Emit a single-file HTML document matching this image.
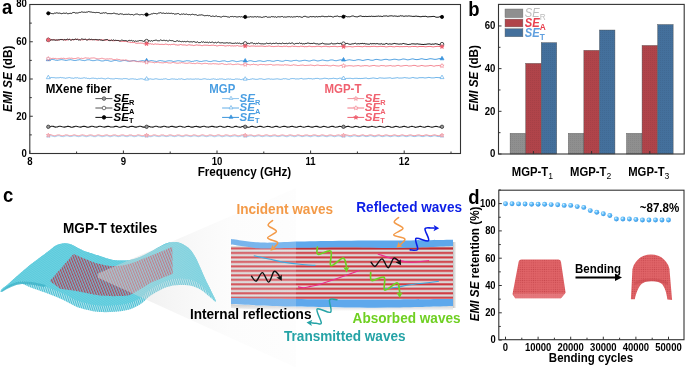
<!DOCTYPE html>
<html><head><meta charset="utf-8"><style>
html,body{margin:0;padding:0;background:#fff;}
svg{display:block;font-family:"Liberation Sans", sans-serif;will-change:transform;}
</style></head><body>
<svg width="685" height="367" viewBox="0 0 685 367">
<rect width="685" height="367" fill="#fff"/>
<rect x="29.8" y="4.5" width="430.7" height="149.0" fill="none" stroke="#333" stroke-width="1.1"/>
<text transform="translate(29.80,165.20) scale(1,1.08)" font-size="9.6" font-weight="bold" font-style="normal" fill="#000" text-anchor="middle" >8</text>
<text transform="translate(123.40,165.20) scale(1,1.08)" font-size="9.6" font-weight="bold" font-style="normal" fill="#000" text-anchor="middle" >9</text>
<text transform="translate(217.00,165.20) scale(1,1.08)" font-size="9.6" font-weight="bold" font-style="normal" fill="#000" text-anchor="middle" >10</text>
<text transform="translate(310.60,165.20) scale(1,1.08)" font-size="9.6" font-weight="bold" font-style="normal" fill="#000" text-anchor="middle" >11</text>
<text transform="translate(404.20,165.20) scale(1,1.08)" font-size="9.6" font-weight="bold" font-style="normal" fill="#000" text-anchor="middle" >12</text>
<text transform="translate(26.80,156.90) scale(1,1.08)" font-size="9.6" font-weight="bold" font-style="normal" fill="#000" text-anchor="end" >0</text>
<text transform="translate(26.80,119.65) scale(1,1.08)" font-size="9.6" font-weight="bold" font-style="normal" fill="#000" text-anchor="end" >20</text>
<text transform="translate(26.80,82.40) scale(1,1.08)" font-size="9.6" font-weight="bold" font-style="normal" fill="#000" text-anchor="end" >40</text>
<text transform="translate(26.80,45.15) scale(1,1.08)" font-size="9.6" font-weight="bold" font-style="normal" fill="#000" text-anchor="end" >60</text>
<text transform="translate(26.80,6.80) scale(1,1.08)" font-size="9.6" font-weight="bold" font-style="normal" fill="#000" text-anchor="end" >80</text>
<path d="M29.80,153.5v-3 M123.40,153.5v-3 M217.00,153.5v-3 M310.60,153.5v-3 M404.20,153.5v-3 M76.60,153.5v-2 M170.20,153.5v-2 M263.80,153.5v-2 M357.40,153.5v-2 M451.00,153.5v-2 M29.8,153.50h3 M29.8,116.25h3 M29.8,79.00h3 M29.8,41.75h3 M29.8,4.50h3 M29.8,134.88h2 M29.8,97.62h2 M29.8,60.38h2 M29.8,23.12h2" stroke="#333" stroke-width="1" fill="none"/>
<text transform="translate(244.40,175.90) scale(1,1.08)" font-size="11.7" font-weight="bold" font-style="normal" fill="#000" text-anchor="middle" >Frequency (GHz)</text>
<text transform="translate(11.8,78.8) rotate(-90) scale(1,1.08)" font-size="11.7" font-weight="bold" text-anchor="middle"><tspan font-style="italic">EMI SE</tspan> (dB)</text>
<text transform="translate(2.00,14.30) scale(1,1.08)" font-size="18.5" font-weight="bold" font-style="normal" fill="#000" text-anchor="start" >a</text>
<polyline points="48.3,136.30 49.3,136.03 50.3,135.75 51.3,135.83 52.3,136.13 53.3,136.39 54.3,136.64 55.3,136.60 56.3,136.34 57.3,135.86 58.3,135.72 59.3,135.75 60.3,136.18 61.3,136.50 62.3,136.55 63.3,136.66 64.3,136.37 65.3,135.97 66.3,135.78 67.3,135.77 68.3,136.03 69.3,136.47 70.3,136.56 71.3,136.50 72.3,136.22 73.3,135.84 74.3,135.75 75.3,135.82 76.3,136.20 77.4,136.47 78.4,136.67 79.4,136.56 80.4,136.30 81.4,135.92 82.4,135.71 83.4,135.94 84.4,136.24 85.4,136.54 86.4,136.69 87.4,136.52 88.4,136.21 89.4,135.89 90.4,135.67 91.4,135.90 92.4,136.12 93.4,136.54 94.4,136.62 95.4,136.65 96.4,136.33 97.4,135.82 98.4,135.70 99.4,135.93 100.4,136.14 101.4,136.57 102.4,136.63 103.4,136.47 104.4,136.28 105.4,135.98 106.4,135.71 107.4,135.77 108.4,136.12 109.4,136.58 110.4,136.70 111.4,136.47 112.4,136.20 113.4,135.84 114.4,135.66 115.4,135.91 116.4,136.09 117.4,136.50 118.4,136.64 119.4,136.48 120.4,136.29 121.4,135.84 122.4,135.78 123.4,135.78 124.4,136.15 125.4,136.43 126.4,136.60 127.4,136.64 128.4,136.30 129.4,135.87 130.4,135.83 131.4,135.80 132.4,136.15 133.5,136.57 134.5,136.68 135.5,136.46 136.5,136.33 137.5,135.85 138.5,135.70 139.5,135.92 140.5,136.14 141.5,136.46 142.5,136.56 143.5,136.45 144.5,136.24 145.5,135.85 146.5,135.77 147.5,135.84 148.5,136.17 149.5,136.59 150.5,136.65 151.5,136.55 152.5,136.29 153.5,135.83 154.5,135.68 155.5,135.95 156.5,136.25 157.5,136.46 158.5,136.59 159.5,136.58 160.5,136.30 161.5,135.83 162.5,135.84 163.5,135.95 164.5,136.21 165.5,136.49 166.5,136.57 167.5,136.43 168.5,136.30 169.5,135.84 170.5,135.79 171.5,135.83 172.5,136.26 173.5,136.53 174.5,136.61 175.5,136.46 176.5,136.25 177.5,135.80 178.5,135.70 179.5,135.89 180.5,136.27 181.5,136.54 182.5,136.61 183.5,136.60 184.5,136.14 185.5,135.79 186.5,135.70 187.5,135.87 188.5,136.11 189.6,136.46 190.6,136.62 191.6,136.53 192.6,136.12 193.6,135.85 194.6,135.83 195.6,135.98 196.6,136.24 197.6,136.56 198.6,136.67 199.6,136.44 200.6,136.10 201.6,135.78 202.6,135.83 203.6,135.93 204.6,136.30 205.6,136.43 206.6,136.68 207.6,136.50 208.6,136.23 209.6,135.84 210.6,135.85 211.6,135.81 212.6,136.23 213.6,136.58 214.6,136.73 215.6,136.55 216.6,136.22 217.6,135.93 218.6,135.83 219.6,135.87 220.6,136.26 221.6,136.61 222.6,136.72 223.6,136.48 224.6,136.23 225.6,135.94 226.6,135.77 227.6,135.93 228.6,136.20 229.6,136.55 230.6,136.67 231.6,136.41 232.6,136.20 233.6,135.96 234.6,135.83 235.6,135.95 236.6,136.21 237.6,136.59 238.6,136.66 239.6,136.48 240.6,136.23 241.6,135.77 242.6,135.80 243.6,135.81 244.6,136.26 245.7,136.54 246.7,136.59 247.7,136.53 248.7,136.16 249.7,135.88 250.7,135.84 251.7,135.86 252.7,136.14 253.7,136.51 254.7,136.68 255.7,136.43 256.7,136.09 257.7,135.93 258.7,135.78 259.7,135.90 260.7,136.33 261.7,136.52 262.7,136.68 263.7,136.42 264.7,136.14 265.7,135.91 266.7,135.84 267.7,136.00 268.7,136.23 269.7,136.57 270.7,136.61 271.7,136.40 272.7,136.14 273.7,135.91 274.7,135.82 275.7,135.97 276.7,136.35 277.7,136.51 278.7,136.58 279.7,136.46 280.7,136.10 281.7,135.78 282.7,135.74 283.7,135.95 284.7,136.26 285.7,136.52 286.7,136.71 287.7,136.57 288.7,136.13 289.7,135.75 290.7,135.66 291.7,136.01 292.7,136.18 293.7,136.60 294.7,136.66 295.7,136.43 296.7,136.19 297.7,135.74 298.7,135.68 299.7,135.93 300.7,136.18 301.8,136.63 302.8,136.59 303.8,136.39 304.8,136.03 305.8,135.86 306.8,135.75 307.8,135.97 308.8,136.31 309.8,136.63 310.8,136.73 311.8,136.49 312.8,136.06 313.8,135.83 314.8,135.69 315.8,135.85 316.8,136.28 317.8,136.61 318.8,136.58 319.8,136.41 320.8,136.08 321.8,135.87 322.8,135.76 323.8,135.97 324.8,136.34 325.8,136.55 326.8,136.70 327.8,136.53 328.8,136.03 329.8,135.91 330.8,135.80 331.8,135.88 332.8,136.28 333.8,136.60 334.8,136.72 335.8,136.42 336.8,136.12 337.8,135.90 338.8,135.82 339.8,136.05 340.8,136.29 341.8,136.61 342.8,136.58 343.8,136.49 344.8,136.16 345.8,135.85 346.8,135.80 347.8,135.90 348.8,136.38 349.8,136.68 350.8,136.73 351.8,136.44 352.8,136.15 353.8,135.78 354.8,135.84 355.8,136.04 356.8,136.28 357.9,136.50 358.9,136.63 359.9,136.44 360.9,136.14 361.9,135.81 362.9,135.67 363.9,136.03 364.9,136.22 365.9,136.65 366.9,136.57 367.9,136.39 368.9,136.14 369.9,135.74 370.9,135.69 371.9,135.98 372.9,136.36 373.9,136.66 374.9,136.67 375.9,136.51 376.9,136.08 377.9,135.90 378.9,135.68 379.9,135.92 380.9,136.33 381.9,136.55 382.9,136.68 383.9,136.45 384.9,136.08 385.9,135.88 386.9,135.78 387.9,135.95 388.9,136.30 389.9,136.66 390.9,136.71 391.9,136.36 392.9,136.14 393.9,135.90 394.9,135.77 395.9,136.00 396.9,136.27 397.9,136.60 398.9,136.63 399.9,136.43 400.9,135.97 401.9,135.90 402.9,135.77 403.9,135.97 404.9,136.40 405.9,136.61 406.9,136.63 407.9,136.44 408.9,135.98 409.9,135.81 410.9,135.75 411.9,136.09 412.9,136.43 414.0,136.56 415.0,136.62 416.0,136.33 417.0,136.04 418.0,135.86 419.0,135.85 420.0,136.00 421.0,136.31 422.0,136.54 423.0,136.65 424.0,136.48 425.0,135.98 426.0,135.85 427.0,135.68 428.0,135.94 429.0,136.30 430.0,136.64 431.0,136.59 432.0,136.36 433.0,136.07 434.0,135.71 435.0,135.82 436.0,135.93 437.0,136.36 438.0,136.56 439.0,136.56 440.0,136.39 441.0,136.03 442.0,135.77" fill="none" stroke="#8cc4ee" stroke-width="0.9" stroke-linejoin="round"/>
<polyline points="48.3,135.36 49.3,135.03 50.3,134.78 51.3,134.87 52.3,135.25 53.3,135.56 54.3,135.81 55.3,135.67 56.3,135.34 57.3,135.01 58.3,134.88 59.3,134.90 60.3,135.27 61.3,135.54 62.3,135.83 63.3,135.54 64.3,135.38 65.3,134.91 66.3,134.89 67.3,134.94 68.3,135.27 69.3,135.68 70.3,135.65 71.3,135.54 72.3,135.39 73.3,134.99 74.3,134.77 75.3,135.07 76.3,135.38 77.4,135.53 78.4,135.73 79.4,135.55 80.4,135.27 81.4,135.01 82.4,134.78 83.4,135.02 84.4,135.21 85.4,135.55 86.4,135.81 87.4,135.60 88.4,135.28 89.4,135.00 90.4,134.85 91.4,134.96 92.4,135.21 93.4,135.66 94.4,135.84 95.4,135.71 96.4,135.33 97.4,134.95 98.4,134.82 99.4,135.02 100.4,135.34 101.4,135.55 102.4,135.70 103.4,135.58 104.4,135.29 105.4,135.04 106.4,134.85 107.4,134.90 108.4,135.38 109.4,135.61 110.4,135.75 111.4,135.55 112.4,135.27 113.4,134.95 114.4,134.90 115.4,134.91 116.4,135.33 117.4,135.57 118.4,135.79 119.4,135.51 120.4,135.24 121.4,134.94 122.4,134.88 123.4,134.91 124.4,135.31 125.4,135.58 126.4,135.71 127.4,135.60 128.4,135.37 129.4,134.96 130.4,134.94 131.4,134.93 132.4,135.41 133.5,135.61 134.5,135.69 135.5,135.65 136.5,135.35 137.5,134.86 138.5,134.80 139.5,135.06 140.5,135.30 141.5,135.59 142.5,135.65 143.5,135.50 144.5,135.29 145.5,135.05 146.5,134.95 147.5,135.01 148.5,135.24 149.5,135.61 150.5,135.81 151.5,135.66 152.5,135.29 153.5,134.90 154.5,134.86 155.5,135.01 156.5,135.37 157.5,135.60 158.5,135.84 159.5,135.66 160.5,135.19 161.5,134.91 162.5,134.93 163.5,134.97 164.5,135.44 165.5,135.65 166.5,135.79 167.5,135.62 168.5,135.19 169.5,134.91 170.5,134.80 171.5,135.06 172.5,135.39 173.5,135.58 174.5,135.82 175.5,135.56 176.5,135.19 177.5,134.93 178.5,134.95 179.5,135.04 180.5,135.38 181.5,135.74 182.5,135.84 183.5,135.63 184.5,135.22 185.5,134.96 186.5,134.93 187.5,135.09 188.5,135.38 189.6,135.63 190.6,135.72 191.6,135.62 192.6,135.25 193.6,134.84 194.6,134.90 195.6,135.11 196.6,135.43 197.6,135.74 198.6,135.83 199.6,135.57 200.6,135.29 201.6,134.91 202.6,134.78 203.6,135.01 204.6,135.33 205.6,135.75 206.6,135.78 207.6,135.57 208.6,135.25 209.6,134.86 210.6,134.86 211.6,135.08 212.6,135.36 213.6,135.62 214.6,135.72 215.6,135.52 216.6,135.26 217.6,134.86 218.6,134.78 219.6,135.01 220.6,135.42 221.6,135.72 222.6,135.77 223.6,135.64 224.6,135.19 225.6,134.83 226.6,134.86 227.6,135.04 228.6,135.32 229.6,135.71 230.6,135.71 231.6,135.50 232.6,135.18 233.6,135.01 234.6,134.76 235.6,135.02 236.6,135.35 237.6,135.62 238.6,135.73 239.6,135.49 240.6,135.29 241.6,134.92 242.6,134.90 243.6,134.99 244.6,135.39 245.7,135.70 246.7,135.81 247.7,135.49 248.7,135.19 249.7,134.99 250.7,134.93 251.7,135.01 252.7,135.41 253.7,135.73 254.7,135.72 255.7,135.57 256.7,135.23 257.7,135.01 258.7,134.87 259.7,135.10 260.7,135.38 261.7,135.73 262.7,135.70 263.7,135.53 264.7,135.16 265.7,134.88 266.7,134.79 267.7,135.01 268.7,135.42 269.7,135.64 270.7,135.64 271.7,135.59 272.7,135.14 273.7,135.00 274.7,134.88 275.7,135.05 276.7,135.49 277.7,135.77 278.7,135.70 279.7,135.45 280.7,135.21 281.7,134.98 282.7,134.89 283.7,135.14 284.7,135.40 285.7,135.72 286.7,135.69 287.7,135.50 288.7,135.15 289.7,134.88 290.7,134.85 291.7,135.14 292.7,135.36 293.7,135.64 294.7,135.68 295.7,135.61 296.7,135.18 297.7,134.81 298.7,134.94 299.7,135.16 300.7,135.49 301.8,135.67 302.8,135.78 303.8,135.47 304.8,135.09 305.8,134.97 306.8,134.94 307.8,135.03 308.8,135.51 309.8,135.60 310.8,135.69 311.8,135.41 312.8,135.10 313.8,134.83 314.8,134.92 315.8,135.06 316.8,135.38 317.8,135.64 318.8,135.69 319.8,135.57 320.8,135.18 321.8,134.82 322.8,134.91 323.8,135.11 324.8,135.43 325.8,135.71 326.8,135.76 327.8,135.56 328.8,135.15 329.8,134.92 330.8,134.87 331.8,135.13 332.8,135.43 333.8,135.69 334.8,135.73 335.8,135.54 336.8,135.10 337.8,134.98 338.8,134.88 339.8,135.18 340.8,135.49 341.8,135.80 342.8,135.76 343.8,135.47 344.8,135.12 345.8,134.91 346.8,134.93 347.8,135.18 348.8,135.38 349.8,135.62 350.8,135.64 351.8,135.40 352.8,135.05 353.8,134.79 354.8,134.83 355.8,135.04 356.8,135.50 357.9,135.74 358.9,135.81 359.9,135.57 360.9,135.18 361.9,134.98 362.9,134.79 363.9,135.07 364.9,135.55 365.9,135.71 366.9,135.66 367.9,135.53 368.9,135.11 369.9,134.89 370.9,134.85 371.9,135.08 372.9,135.39 373.9,135.74 374.9,135.81 375.9,135.57 376.9,135.18 377.9,134.97 378.9,134.86 379.9,135.09 380.9,135.56 381.9,135.74 382.9,135.75 383.9,135.37 384.9,135.07 385.9,134.88 386.9,134.93 387.9,135.20 388.9,135.53 389.9,135.69 390.9,135.69 391.9,135.53 392.9,135.21 393.9,134.88 394.9,134.83 395.9,135.17 396.9,135.49 397.9,135.69 398.9,135.65 399.9,135.43 400.9,135.13 401.9,134.80 402.9,134.90 403.9,135.24 404.9,135.54 405.9,135.67 406.9,135.69 407.9,135.37 408.9,135.15 409.9,134.90 410.9,134.83 411.9,135.16 412.9,135.52 414.0,135.74 415.0,135.68 416.0,135.41 417.0,135.07 418.0,134.97 419.0,134.86 420.0,135.16 421.0,135.49 422.0,135.66 423.0,135.68 424.0,135.38 425.0,135.06 426.0,134.85 427.0,134.87 428.0,135.25 429.0,135.46 430.0,135.69 431.0,135.73 432.0,135.42 433.0,135.10 434.0,134.90 435.0,134.82 436.0,135.20 437.0,135.43 438.0,135.68 439.0,135.76 440.0,135.53 441.0,135.12 442.0,134.80" fill="none" stroke="#f3909a" stroke-width="0.9" stroke-linejoin="round"/>
<polyline points="48.3,127.18 49.3,126.98 50.3,126.67 51.3,126.26 52.3,126.21 53.3,126.39 54.3,126.75 55.3,127.13 56.3,127.07 57.3,126.94 58.3,126.54 59.3,126.28 60.3,126.25 61.3,126.53 62.3,126.83 63.3,126.99 64.3,127.09 65.3,126.86 66.3,126.67 67.3,126.38 68.3,126.33 69.3,126.54 70.3,126.86 71.3,127.18 72.3,127.20 73.3,126.88 74.3,126.66 75.3,126.31 76.3,126.32 77.4,126.49 78.4,126.81 79.4,127.07 80.4,127.13 81.4,126.89 82.4,126.51 83.4,126.38 84.4,126.33 85.4,126.58 86.4,126.87 87.4,127.11 88.4,127.19 89.4,126.85 90.4,126.62 91.4,126.30 92.4,126.21 93.4,126.43 94.4,126.84 95.4,127.05 96.4,127.13 97.4,126.94 98.4,126.56 99.4,126.24 100.4,126.28 101.4,126.44 102.4,126.79 103.4,127.05 104.4,127.11 105.4,126.84 106.4,126.61 107.4,126.40 108.4,126.26 109.4,126.55 110.4,126.93 111.4,127.02 112.4,127.07 113.4,126.98 114.4,126.64 115.4,126.34 116.4,126.22 117.4,126.49 118.4,126.93 119.4,127.19 120.4,127.20 121.4,126.86 122.4,126.64 123.4,126.29 124.4,126.33 125.4,126.44 126.4,126.95 127.4,127.14 128.4,127.19 129.4,126.86 130.4,126.59 131.4,126.33 132.4,126.31 133.5,126.49 134.5,126.91 135.5,127.09 136.5,127.10 137.5,126.84 138.5,126.60 139.5,126.23 140.5,126.24 141.5,126.44 142.5,126.90 143.5,127.14 144.5,127.15 145.5,126.82 146.5,126.55 147.5,126.28 148.5,126.22 149.5,126.44 150.5,126.98 151.5,127.06 152.5,127.10 153.5,126.86 154.5,126.58 155.5,126.23 156.5,126.30 157.5,126.52 158.5,126.95 159.5,127.04 160.5,127.11 161.5,126.90 162.5,126.65 163.5,126.31 164.5,126.30 165.5,126.58 166.5,126.85 167.5,127.05 168.5,127.14 169.5,126.98 170.5,126.60 171.5,126.26 172.5,126.35 173.5,126.63 174.5,126.85 175.5,127.16 176.5,127.11 177.5,126.85 178.5,126.51 179.5,126.25 180.5,126.29 181.5,126.47 182.5,126.89 183.5,127.07 184.5,127.20 185.5,126.92 186.5,126.45 187.5,126.37 188.5,126.26 189.6,126.57 190.6,126.93 191.6,127.12 192.6,127.10 193.6,126.88 194.6,126.48 195.6,126.39 196.6,126.25 197.6,126.64 198.6,126.87 199.6,127.12 200.6,127.12 201.6,126.80 202.6,126.47 203.6,126.29 204.6,126.32 205.6,126.66 206.6,127.03 207.6,127.07 208.6,127.15 209.6,126.82 210.6,126.61 211.6,126.28 212.6,126.41 213.6,126.60 214.6,126.86 215.6,127.07 216.6,127.10 217.6,126.96 218.6,126.47 219.6,126.31 220.6,126.31 221.6,126.57 222.6,127.00 223.6,127.11 224.6,127.19 225.6,126.92 226.6,126.63 227.6,126.32 228.6,126.43 229.6,126.59 230.6,126.97 231.6,127.20 232.6,127.21 233.6,126.96 234.6,126.46 235.6,126.25 236.6,126.36 237.6,126.68 238.6,126.96 239.6,127.14 240.6,127.24 241.6,126.84 242.6,126.45 243.6,126.23 244.6,126.26 245.7,126.67 246.7,126.89 247.7,127.23 248.7,127.22 249.7,126.98 250.7,126.60 251.7,126.30 252.7,126.38 253.7,126.70 254.7,127.01 255.7,127.14 256.7,127.20 257.7,126.80 258.7,126.50 259.7,126.42 260.7,126.36 261.7,126.59 262.7,127.04 263.7,127.18 264.7,127.05 265.7,126.78 266.7,126.48 267.7,126.29 268.7,126.46 269.7,126.59 270.7,127.06 271.7,127.26 272.7,127.13 273.7,126.97 274.7,126.58 275.7,126.32 276.7,126.33 277.7,126.64 278.7,127.07 279.7,127.20 280.7,127.09 281.7,126.84 282.7,126.52 283.7,126.26 284.7,126.39 285.7,126.56 286.7,127.06 287.7,127.14 288.7,127.07 289.7,126.88 290.7,126.49 291.7,126.40 292.7,126.38 293.7,126.67 294.7,127.07 295.7,127.15 296.7,127.20 297.7,126.89 298.7,126.51 299.7,126.42 300.7,126.29 301.8,126.75 302.8,126.94 303.8,127.28 304.8,127.08 305.8,126.77 306.8,126.52 307.8,126.41 308.8,126.35 309.8,126.68 310.8,127.04 311.8,127.16 312.8,127.15 313.8,126.76 314.8,126.51 315.8,126.38 316.8,126.37 317.8,126.63 318.8,126.94 319.8,127.26 320.8,127.13 321.8,126.94 322.8,126.57 323.8,126.25 324.8,126.49 325.8,126.78 326.8,127.10 327.8,127.28 328.8,127.18 329.8,126.90 330.8,126.55 331.8,126.35 332.8,126.36 333.8,126.63 334.8,127.08 335.8,127.24 336.8,127.05 337.8,126.88 338.8,126.54 339.8,126.34 340.8,126.47 341.8,126.78 342.8,127.02 343.8,127.29 344.8,127.14 345.8,126.86 346.8,126.50 347.8,126.42 348.8,126.41 349.8,126.81 350.8,127.02 351.8,127.26 352.8,127.22 353.8,126.88 354.8,126.49 355.8,126.25 356.8,126.42 357.9,126.71 358.9,127.12 359.9,127.29 360.9,127.24 361.9,126.83 362.9,126.49 363.9,126.35 364.9,126.48 365.9,126.65 366.9,127.01 367.9,127.16 368.9,127.10 369.9,126.80 370.9,126.60 371.9,126.28 372.9,126.52 373.9,126.70 374.9,127.01 375.9,127.33 376.9,127.06 377.9,126.76 378.9,126.43 379.9,126.25 380.9,126.42 381.9,126.69 382.9,127.01 383.9,127.14 384.9,127.18 385.9,126.74 386.9,126.45 387.9,126.36 388.9,126.52 389.9,126.78 390.9,127.12 391.9,127.28 392.9,127.20 393.9,126.90 394.9,126.43 395.9,126.25 396.9,126.47 397.9,126.76 398.9,127.09 399.9,127.30 400.9,127.07 401.9,126.87 402.9,126.48 403.9,126.33 404.9,126.40 405.9,126.72 406.9,127.11 407.9,127.25 408.9,127.21 409.9,126.78 410.9,126.54 411.9,126.27 412.9,126.49 414.0,126.70 415.0,127.17 416.0,127.34 417.0,127.08 418.0,126.88 419.0,126.44 420.0,126.31 421.0,126.39 422.0,126.77 423.0,127.02 424.0,127.29 425.0,127.14 426.0,126.80 427.0,126.53 428.0,126.29 429.0,126.44 430.0,126.76 431.0,127.01 432.0,127.33 433.0,127.04 434.0,126.73 435.0,126.55 436.0,126.41 437.0,126.46 438.0,126.77 439.0,127.04 440.0,127.15 441.0,127.13 442.0,126.76" fill="none" stroke="#1c1c1c" stroke-width="1.1" stroke-linejoin="round"/>
<polyline points="48.3,78.01 49.3,77.99 50.3,77.79 51.3,77.50 52.3,77.61 53.3,77.64 54.3,77.67 55.3,77.87 56.3,77.90 57.3,77.81 58.3,77.82 59.3,77.73 60.3,77.41 61.3,77.72 62.3,77.65 63.3,77.86 64.3,77.92 65.3,78.30 66.3,78.06 67.3,77.94 68.3,77.73 69.3,77.52 70.3,77.80 71.3,78.07 72.3,78.06 73.3,78.39 74.3,78.03 75.3,77.77 76.3,77.93 77.4,77.68 78.4,78.17 79.4,78.18 80.4,78.36 81.4,78.28 82.4,78.20 83.4,77.91 84.4,77.75 85.4,78.11 86.4,78.03 87.4,78.45 88.4,78.36 89.4,78.66 90.4,78.50 91.4,78.27 92.4,78.18 93.4,78.14 94.4,78.37 95.4,78.33 96.4,78.61 97.4,78.75 98.4,78.37 99.4,78.48 100.4,78.37 101.4,78.22 102.4,78.37 103.4,78.61 104.4,78.72 105.4,78.96 106.4,78.58 107.4,78.26 108.4,78.19 109.4,78.48 110.4,78.76 111.4,78.77 112.4,78.90 113.4,78.91 114.4,78.86 115.4,78.47 116.4,78.53 117.4,78.55 118.4,78.75 119.4,78.78 120.4,78.90 121.4,78.96 122.4,79.05 123.4,78.65 124.4,78.65 125.4,78.58 126.4,78.66 127.4,78.85 128.4,79.28 129.4,79.24 130.4,78.94 131.4,78.89 132.4,78.79 133.5,78.92 134.5,79.11 135.5,79.09 136.5,79.45 137.5,79.41 138.5,79.12 139.5,79.06 140.5,78.80 141.5,78.80 142.5,78.91 143.5,79.36 144.5,79.19 145.5,79.13 146.5,79.27 147.5,79.07 148.5,78.85 149.5,79.03 150.5,78.87 151.5,79.14 152.5,79.26 153.5,79.28 154.5,79.02 155.5,78.79 156.5,78.80 157.5,79.06 158.5,79.25 159.5,79.35 160.5,79.35 161.5,79.22 162.5,79.34 163.5,78.98 164.5,78.96 165.5,78.72 166.5,78.96 167.5,79.39 168.5,79.48 169.5,79.48 170.5,79.20 171.5,78.95 172.5,78.91 173.5,79.06 174.5,79.01 175.5,79.28 176.5,79.28 177.5,79.44 178.5,78.97 179.5,79.06 180.5,79.07 181.5,78.74 182.5,79.13 183.5,79.34 184.5,79.52 185.5,79.37 186.5,79.08 187.5,78.95 188.5,79.08 189.6,79.10 190.6,78.96 191.6,79.13 192.6,79.23 193.6,79.16 194.6,79.16 195.6,78.86 196.6,79.05 197.6,79.01 198.6,78.97 199.6,79.32 200.6,79.33 201.6,79.35 202.6,79.08 203.6,78.87 204.6,78.79 205.6,78.92 206.6,79.22 207.6,79.34 208.6,79.23 209.6,79.45 210.6,79.35 211.6,79.12 212.6,79.04 213.6,78.78 214.6,79.13 215.6,79.16 216.6,79.53 217.6,79.24 218.6,79.29 219.6,78.92 220.6,79.01 221.6,78.91 222.6,78.97 223.6,79.30 224.6,79.36 225.6,79.54 226.6,79.13 227.6,79.03 228.6,78.96 229.6,79.18 230.6,79.01 231.6,79.39 232.6,79.44 233.6,79.48 234.6,79.40 235.6,78.96 236.6,79.03 237.6,79.02 238.6,79.20 239.6,79.18 240.6,79.57 241.6,79.58 242.6,79.16 243.6,78.96 244.6,79.15 245.7,78.85 246.7,79.01 247.7,79.18 248.7,79.56 249.7,79.47 250.7,79.17 251.7,79.06 252.7,78.73 253.7,79.03 254.7,79.12 255.7,79.33 256.7,79.35 257.7,79.29 258.7,79.04 259.7,78.78 260.7,78.85 261.7,78.83 262.7,79.18 263.7,79.40 264.7,79.43 265.7,79.25 266.7,78.99 267.7,78.86 268.7,78.81 269.7,78.93 270.7,79.23 271.7,79.05 272.7,79.28 273.7,79.21 274.7,79.11 275.7,79.00 276.7,78.86 277.7,78.86 278.7,79.08 279.7,79.22 280.7,79.36 281.7,79.22 282.7,79.03 283.7,78.67 284.7,78.85 285.7,78.70 286.7,78.96 287.7,79.21 288.7,79.34 289.7,79.26 290.7,78.69 291.7,78.62 292.7,78.54 293.7,78.63 294.7,78.70 295.7,79.04 296.7,78.91 297.7,78.92 298.7,78.99 299.7,78.72 300.7,78.53 301.8,78.45 302.8,78.96 303.8,79.03 304.8,78.89 305.8,78.86 306.8,78.79 307.8,78.63 308.8,78.38 309.8,78.72 310.8,78.64 311.8,78.78 312.8,79.08 313.8,78.72 314.8,78.74 315.8,78.36 316.8,78.45 317.8,78.39 318.8,78.60 319.8,78.99 320.8,78.86 321.8,78.77 322.8,78.65 323.8,78.34 324.8,78.22 325.8,78.38 326.8,78.51 327.8,78.64 328.8,79.01 329.8,78.55 330.8,78.67 331.8,78.54 332.8,78.38 333.8,78.18 334.8,78.55 335.8,78.54 336.8,78.82 337.8,78.77 338.8,78.40 339.8,78.13 340.8,78.28 341.8,78.18 342.8,78.44 343.8,78.67 344.8,78.90 345.8,78.60 346.8,78.32 347.8,78.41 348.8,78.35 349.8,78.31 350.8,78.30 351.8,78.52 352.8,78.66 353.8,78.62 354.8,78.30 355.8,78.35 356.8,78.30 357.9,78.42 358.9,78.58 359.9,78.39 360.9,78.67 361.9,78.37 362.9,78.50 363.9,78.26 364.9,78.20 365.9,78.06 366.9,78.18 367.9,78.64 368.9,78.60 369.9,78.51 370.9,78.25 371.9,78.21 372.9,77.96 373.9,78.01 374.9,78.22 375.9,78.35 376.9,78.53 377.9,78.53 378.9,78.01 379.9,77.83 380.9,77.94 381.9,78.09 382.9,78.07 383.9,78.26 384.9,78.21 385.9,78.10 386.9,78.08 387.9,77.98 388.9,77.91 389.9,77.79 390.9,77.95 391.9,78.43 392.9,78.31 393.9,78.15 394.9,78.07 395.9,77.91 396.9,77.76 397.9,77.67 398.9,78.15 399.9,78.05 400.9,78.02 401.9,78.04 402.9,77.91 403.9,77.77 404.9,77.54 405.9,77.84 406.9,77.93 407.9,77.95 408.9,78.26 409.9,78.13 410.9,77.97 411.9,77.71 412.9,77.47 414.0,77.78 415.0,78.01 416.0,78.01 417.0,78.20 418.0,78.11 419.0,77.68 420.0,77.73 421.0,77.68 422.0,77.71 423.0,77.58 424.0,77.87 425.0,78.00 426.0,77.89 427.0,77.75 428.0,77.54 429.0,77.30 430.0,77.70 431.0,77.73 432.0,78.02 433.0,77.78 434.0,77.98 435.0,77.61 436.0,77.53 437.0,77.48 438.0,77.64 439.0,77.61 440.0,77.65 441.0,77.81 442.0,77.61" fill="none" stroke="#62aee8" stroke-width="0.9" stroke-linejoin="round"/>
<polyline points="48.3,60.22 49.3,60.06 50.3,60.00 51.3,59.58 52.3,59.45 53.3,59.61 54.3,59.77 55.3,60.16 56.3,60.24 57.3,60.43 58.3,60.17 59.3,59.97 60.3,59.79 61.3,59.62 62.3,59.74 63.3,59.92 64.3,60.07 65.3,60.45 66.3,60.43 67.3,60.24 68.3,59.96 69.3,59.85 70.3,59.68 71.3,59.82 72.3,60.02 73.3,60.34 74.3,60.47 75.3,60.53 76.3,60.37 77.4,60.05 78.4,59.95 79.4,59.70 80.4,59.87 81.4,60.13 82.4,60.35 83.4,60.45 84.4,60.63 85.4,60.45 86.4,60.09 87.4,59.82 88.4,59.80 89.4,59.77 90.4,60.18 91.4,60.39 92.4,60.61 93.4,60.64 94.4,60.57 95.4,60.38 96.4,60.05 97.4,59.98 98.4,60.13 99.4,60.33 100.4,60.70 101.4,60.92 102.4,60.96 103.4,60.89 104.4,60.63 105.4,60.32 106.4,60.42 107.4,60.39 108.4,60.66 109.4,60.94 110.4,61.25 111.4,61.28 112.4,61.03 113.4,60.75 114.4,60.45 115.4,60.50 116.4,60.44 117.4,60.75 118.4,60.98 119.4,61.17 120.4,61.20 121.4,61.01 122.4,60.72 123.4,60.58 124.4,60.53 125.4,60.59 126.4,60.74 127.4,61.11 128.4,61.18 129.4,61.27 130.4,61.20 131.4,60.95 132.4,60.63 133.5,60.60 134.5,60.62 135.5,60.87 136.5,61.16 137.5,61.43 138.5,61.39 139.5,61.18 140.5,60.97 141.5,60.71 142.5,60.56 143.5,60.73 144.5,60.98 145.5,61.21 146.5,61.46 147.5,61.28 148.5,61.21 149.5,60.97 150.5,60.67 151.5,60.54 152.5,60.73 153.5,60.92 154.5,61.16 155.5,61.29 156.5,61.48 157.5,61.19 158.5,60.88 159.5,60.66 160.5,60.57 161.5,60.79 162.5,60.89 163.5,61.18 164.5,61.32 165.5,61.40 166.5,61.17 167.5,60.93 168.5,60.78 169.5,60.72 170.5,60.80 171.5,60.88 172.5,61.22 173.5,61.49 174.5,61.33 175.5,61.19 176.5,60.98 177.5,60.72 178.5,60.71 179.5,60.80 180.5,60.99 181.5,61.22 182.5,61.39 183.5,61.40 184.5,61.18 185.5,61.03 186.5,60.70 187.5,60.76 188.5,60.81 189.6,60.94 190.6,61.30 191.6,61.49 192.6,61.37 193.6,61.28 194.6,60.92 195.6,60.84 196.6,60.60 197.6,60.83 198.6,61.15 199.6,61.39 200.6,61.44 201.6,61.49 202.6,61.23 203.6,61.00 204.6,60.88 205.6,60.79 206.6,60.73 207.6,61.05 208.6,61.38 209.6,61.45 210.6,61.57 211.6,61.40 212.6,61.06 213.6,60.80 214.6,60.82 215.6,60.86 216.6,61.04 217.6,61.33 218.6,61.47 219.6,61.59 220.6,61.34 221.6,61.11 222.6,60.90 223.6,60.86 224.6,60.82 225.6,61.11 226.6,61.47 227.6,61.61 228.6,61.52 229.6,61.38 230.6,61.02 231.6,60.79 232.6,60.69 233.6,60.88 234.6,61.10 235.6,61.42 236.6,61.67 237.6,61.48 238.6,61.37 239.6,61.16 240.6,60.89 241.6,60.80 242.6,60.97 243.6,61.07 244.6,61.52 245.7,61.62 246.7,61.62 247.7,61.42 248.7,60.99 249.7,60.76 250.7,60.71 251.7,60.88 252.7,61.21 253.7,61.46 254.7,61.51 255.7,61.51 256.7,61.33 257.7,60.97 258.7,60.87 259.7,60.79 260.7,60.86 261.7,61.13 262.7,61.36 263.7,61.47 264.7,61.37 265.7,61.15 266.7,60.85 267.7,60.59 268.7,60.69 269.7,60.68 270.7,60.86 271.7,61.17 272.7,61.27 273.7,61.29 274.7,61.05 275.7,60.74 276.7,60.57 277.7,60.49 278.7,60.59 279.7,60.92 280.7,61.07 281.7,61.25 282.7,61.27 283.7,61.07 284.7,60.67 285.7,60.37 286.7,60.49 287.7,60.52 288.7,60.71 289.7,60.94 290.7,61.09 291.7,61.06 292.7,60.80 293.7,60.50 294.7,60.47 295.7,60.37 296.7,60.35 297.7,60.68 298.7,60.99 299.7,61.06 300.7,60.92 301.8,60.76 302.8,60.49 303.8,60.37 304.8,60.25 305.8,60.36 306.8,60.64 307.8,60.78 308.8,61.04 309.8,61.01 310.8,60.77 311.8,60.42 312.8,60.19 313.8,60.08 314.8,60.22 315.8,60.48 316.8,60.79 317.8,60.98 318.8,60.80 319.8,60.63 320.8,60.37 321.8,60.15 322.8,59.97 323.8,60.28 324.8,60.45 325.8,60.64 326.8,60.74 327.8,60.76 328.8,60.58 329.8,60.18 330.8,59.97 331.8,59.95 332.8,60.00 333.8,60.29 334.8,60.64 335.8,60.68 336.8,60.66 337.8,60.33 338.8,60.16 339.8,59.93 340.8,59.77 341.8,59.97 342.8,60.26 343.8,60.48 344.8,60.61 345.8,60.47 346.8,60.31 347.8,59.99 348.8,59.87 349.8,59.74 350.8,60.00 351.8,60.17 352.8,60.35 353.8,60.50 354.8,60.37 355.8,60.26 356.8,59.84 357.9,59.74 358.9,59.64 359.9,59.87 360.9,60.00 361.9,60.35 362.9,60.46 363.9,60.29 364.9,60.03 365.9,59.80 366.9,59.64 367.9,59.52 368.9,59.61 369.9,59.95 370.9,60.26 371.9,60.24 372.9,60.31 373.9,59.99 374.9,59.63 375.9,59.41 376.9,59.42 377.9,59.59 378.9,59.78 379.9,59.99 380.9,60.18 381.9,60.04 382.9,59.84 383.9,59.55 384.9,59.39 385.9,59.33 386.9,59.41 387.9,59.65 388.9,60.02 389.9,59.95 390.9,59.88 391.9,59.62 392.9,59.49 393.9,59.23 394.9,59.27 395.9,59.35 396.9,59.55 397.9,59.80 398.9,59.95 399.9,59.76 400.9,59.63 401.9,59.26 402.9,58.99 403.9,59.02 404.9,59.21 405.9,59.38 406.9,59.76 407.9,59.86 408.9,59.68 409.9,59.51 410.9,59.19 411.9,58.96 412.9,58.85 414.0,59.16 415.0,59.41 416.0,59.55 417.0,59.63 418.0,59.47 419.0,59.33 420.0,59.10 421.0,58.81 422.0,58.76 423.0,58.99 424.0,59.28 425.0,59.38 426.0,59.50 427.0,59.47 428.0,59.11 429.0,58.98 430.0,58.69 431.0,58.78 432.0,58.86 433.0,59.06 434.0,59.27 435.0,59.37 436.0,59.31 437.0,59.16 438.0,58.89 439.0,58.67 440.0,58.60 441.0,58.84 442.0,59.11" fill="none" stroke="#3a94dc" stroke-width="0.9" stroke-linejoin="round"/>
<polyline points="48.3,58.62 49.3,58.87 50.3,59.00 51.3,58.64 52.3,58.43 53.3,58.32 54.3,58.51 55.3,58.37 56.3,58.79 57.3,58.89 58.3,58.68 59.3,58.69 60.3,58.45 61.3,58.28 62.3,58.48 63.3,58.23 64.3,58.38 65.3,58.87 66.3,58.65 67.3,58.42 68.3,58.26 69.3,58.12 70.3,58.32 71.3,58.14 72.3,58.31 73.3,58.59 74.3,58.56 75.3,58.58 76.3,58.32 77.4,57.97 78.4,57.89 79.4,58.25 80.4,58.49 81.4,58.23 82.4,58.51 83.4,58.42 84.4,58.13 85.4,57.80 86.4,58.02 87.4,58.11 88.4,58.08 89.4,58.39 90.4,58.23 91.4,58.05 92.4,58.01 93.4,57.92 94.4,57.98 95.4,58.26 96.4,58.58 97.4,58.82 98.4,58.88 99.4,58.81 100.4,58.59 101.4,58.32 102.4,58.32 103.4,58.69 104.4,58.90 105.4,59.14 106.4,58.95 107.4,58.89 108.4,59.03 109.4,58.79 110.4,58.87 111.4,58.81 112.4,59.18 113.4,59.58 114.4,59.55 115.4,59.62 116.4,59.19 117.4,59.24 118.4,59.47 119.4,59.56 120.4,59.99 121.4,60.13 122.4,60.05 123.4,60.01 124.4,60.27 125.4,59.90 126.4,60.05 127.4,60.35 128.4,60.80 129.4,61.10 130.4,61.05 131.4,61.03 132.4,61.06 133.5,60.83 134.5,60.98 135.5,61.32 136.5,61.62 137.5,61.60 138.5,61.71 139.5,61.67 140.5,61.80 141.5,61.73 142.5,61.93 143.5,62.05 144.5,62.10 145.5,62.49 146.5,62.61 147.5,62.24 148.5,61.93 149.5,61.98 150.5,61.99 151.5,62.12 152.5,62.30 153.5,62.49 154.5,62.81 155.5,62.38 156.5,62.45 157.5,62.19 158.5,62.22 159.5,62.64 160.5,62.64 161.5,62.73 162.5,62.84 163.5,62.80 164.5,62.55 165.5,62.58 166.5,62.43 167.5,62.64 168.5,62.92 169.5,62.96 170.5,63.07 171.5,62.84 172.5,62.53 173.5,62.43 174.5,62.73 175.5,62.88 176.5,63.17 177.5,63.21 178.5,63.17 179.5,62.88 180.5,62.99 181.5,62.60 182.5,62.77 183.5,62.83 184.5,63.14 185.5,63.25 186.5,63.30 187.5,63.29 188.5,63.06 189.6,62.85 190.6,63.11 191.6,63.27 192.6,63.53 193.6,63.35 194.6,63.59 195.6,63.58 196.6,63.16 197.6,63.05 198.6,63.35 199.6,63.35 200.6,63.58 201.6,63.89 202.6,63.72 203.6,63.52 204.6,63.37 205.6,63.33 206.6,63.52 207.6,63.57 208.6,63.95 209.6,63.81 210.6,63.89 211.6,63.91 212.6,63.69 213.6,63.61 214.6,63.84 215.6,63.76 216.6,63.93 217.6,64.01 218.6,64.19 219.6,63.99 220.6,63.89 221.6,63.62 222.6,63.67 223.6,64.00 224.6,64.37 225.6,64.32 226.6,64.55 227.6,64.29 228.6,64.05 229.6,64.11 230.6,63.95 231.6,64.27 232.6,64.58 233.6,64.58 234.6,64.48 235.6,64.25 236.6,64.27 237.6,64.03 238.6,64.15 239.6,64.39 240.6,64.75 241.6,64.77 242.6,64.69 243.6,64.68 244.6,64.28 245.7,64.21 246.7,64.37 247.7,64.49 248.7,64.55 249.7,64.74 250.7,64.88 251.7,64.50 252.7,64.50 253.7,64.14 254.7,64.56 255.7,64.62 256.7,64.67 257.7,65.05 258.7,64.95 259.7,64.51 260.7,64.41 261.7,64.42 262.7,64.67 263.7,64.51 264.7,64.67 265.7,64.89 266.7,64.76 267.7,64.76 268.7,64.64 269.7,64.51 270.7,64.45 271.7,64.58 272.7,65.09 273.7,65.06 274.7,65.05 275.7,64.90 276.7,64.81 277.7,64.81 278.7,64.85 279.7,64.99 280.7,65.03 281.7,65.08 282.7,65.02 283.7,65.17 284.7,64.68 285.7,64.80 286.7,65.00 287.7,64.95 288.7,65.17 289.7,65.30 290.7,65.47 291.7,65.22 292.7,65.11 293.7,64.70 294.7,65.04 295.7,65.11 296.7,65.29 297.7,65.56 298.7,65.49 299.7,65.41 300.7,65.16 301.8,65.15 302.8,65.02 303.8,65.24 304.8,65.53 305.8,65.50 306.8,65.33 307.8,65.35 308.8,65.28 309.8,65.20 310.8,64.96 311.8,65.24 312.8,65.37 313.8,65.52 314.8,65.73 315.8,65.36 316.8,65.14 317.8,65.05 318.8,65.19 319.8,65.47 320.8,65.54 321.8,65.58 322.8,65.56 323.8,65.42 324.8,65.52 325.8,65.15 326.8,65.46 327.8,65.39 328.8,65.86 329.8,65.76 330.8,65.93 331.8,65.64 332.8,65.33 333.8,65.27 334.8,65.62 335.8,65.71 336.8,65.88 337.8,65.93 338.8,66.02 339.8,65.77 340.8,65.44 341.8,65.58 342.8,65.53 343.8,65.92 344.8,65.99 345.8,66.16 346.8,65.84 347.8,65.90 348.8,65.68 349.8,65.69 350.8,65.77 351.8,65.81 352.8,66.00 353.8,66.16 354.8,65.89 355.8,65.83 356.8,65.75 357.9,65.59 358.9,65.63 359.9,65.93 360.9,66.16 361.9,65.95 362.9,65.81 363.9,65.85 364.9,65.49 365.9,65.74 366.9,65.61 367.9,65.81 368.9,66.10 369.9,66.20 370.9,65.84 371.9,65.79 372.9,65.50 373.9,65.53 374.9,65.47 375.9,65.95 376.9,65.92 377.9,66.01 378.9,66.14 379.9,65.93 380.9,65.56 381.9,65.55 382.9,65.69 383.9,65.67 384.9,65.83 385.9,66.19 386.9,65.84 387.9,65.88 388.9,65.72 389.9,65.59 390.9,65.56 391.9,65.94 392.9,66.09 393.9,65.88 394.9,66.13 395.9,65.85 396.9,65.54 397.9,65.42 398.9,65.46 399.9,65.93 400.9,66.12 401.9,65.99 402.9,65.85 403.9,65.62 404.9,65.58 405.9,65.47 406.9,65.45 407.9,65.73 408.9,66.11 409.9,65.88 410.9,65.93 411.9,65.80 412.9,65.48 414.0,65.36 415.0,65.46 416.0,65.67 417.0,66.17 418.0,66.19 419.0,66.05 420.0,65.95 421.0,65.55 422.0,65.45 423.0,65.78 424.0,65.85 425.0,66.15 426.0,65.99 427.0,65.93 428.0,65.87 429.0,65.77 430.0,65.42 431.0,65.54 432.0,65.62 433.0,66.01 434.0,66.22 435.0,65.99 436.0,65.64 437.0,65.69 438.0,65.61 439.0,65.48 440.0,65.98 441.0,66.05 442.0,66.05" fill="none" stroke="#f27b88" stroke-width="0.9" stroke-linejoin="round"/>
<polyline points="48.3,39.91 49.3,40.02 50.3,40.20 51.3,39.90 52.3,39.84 53.3,39.51 54.3,39.72 55.3,39.98 56.3,39.99 57.3,40.22 58.3,40.14 59.3,39.78 60.3,39.48 61.3,39.71 62.3,39.49 63.3,39.57 64.3,40.00 65.3,40.10 66.3,40.04 67.3,39.94 68.3,39.48 69.3,39.36 70.3,39.41 71.3,39.88 72.3,39.67 73.3,39.75 74.3,39.63 75.3,39.49 76.3,39.34 77.4,39.39 78.4,39.36 79.4,39.55 80.4,39.93 81.4,39.69 82.4,39.89 83.4,39.71 84.4,39.49 85.4,39.43 86.4,39.58 87.4,39.66 88.4,39.68 89.4,39.81 90.4,39.74 91.4,39.69 92.4,39.81 93.4,39.55 94.4,39.49 95.4,39.82 96.4,40.13 97.4,40.07 98.4,40.15 99.4,39.80 100.4,39.67 101.4,39.88 102.4,39.72 103.4,39.99 104.4,40.19 105.4,40.20 106.4,40.10 107.4,39.96 108.4,40.22 109.4,40.07 110.4,40.26 111.4,40.27 112.4,40.66 113.4,40.76 114.4,40.68 115.4,40.58 116.4,40.52 117.4,40.45 118.4,40.67 119.4,41.05 120.4,41.09 121.4,41.52 122.4,41.44 123.4,41.45 124.4,41.51 125.4,41.51 126.4,41.49 127.4,41.80 128.4,41.96 129.4,42.15 130.4,42.58 131.4,42.42 132.4,42.55 133.5,42.54 134.5,42.53 135.5,43.05 136.5,43.28 137.5,43.25 138.5,43.14 139.5,43.19 140.5,43.08 141.5,43.20 142.5,43.23 143.5,43.70 144.5,44.02 145.5,43.82 146.5,44.04 147.5,43.84 148.5,43.69 149.5,43.85 150.5,43.74 151.5,44.11 152.5,43.98 153.5,44.44 154.5,44.11 155.5,43.94 156.5,44.19 157.5,44.12 158.5,44.20 159.5,44.41 160.5,44.41 161.5,44.37 162.5,44.39 163.5,44.52 164.5,44.41 165.5,44.09 166.5,44.26 167.5,44.44 168.5,44.78 169.5,44.49 170.5,44.78 171.5,44.43 172.5,44.44 173.5,44.25 174.5,44.34 175.5,44.83 176.5,44.85 177.5,45.11 178.5,45.03 179.5,44.87 180.5,44.49 181.5,44.68 182.5,44.95 183.5,44.93 184.5,44.92 185.5,45.04 186.5,45.32 187.5,45.20 188.5,44.80 189.6,44.81 190.6,45.07 191.6,45.16 192.6,45.19 193.6,45.58 194.6,45.38 195.6,45.15 196.6,44.90 197.6,45.07 198.6,45.26 199.6,45.19 200.6,45.30 201.6,45.60 202.6,45.61 203.6,45.26 204.6,45.18 205.6,45.21 206.6,45.26 207.6,45.26 208.6,45.47 209.6,45.50 210.6,45.43 211.6,45.25 212.6,45.26 213.6,45.17 214.6,45.52 215.6,45.48 216.6,45.88 217.6,45.88 218.6,45.60 219.6,45.42 220.6,45.48 221.6,45.42 222.6,45.55 223.6,45.55 224.6,45.86 225.6,46.01 226.6,45.82 227.6,45.62 228.6,45.77 229.6,45.50 230.6,45.88 231.6,45.93 232.6,45.80 233.6,46.03 234.6,45.84 235.6,45.96 236.6,45.70 237.6,45.55 238.6,46.00 239.6,46.10 240.6,46.16 241.6,46.19 242.6,45.92 243.6,46.14 244.6,45.75 245.7,45.82 246.7,45.89 247.7,46.04 248.7,46.00 249.7,46.39 250.7,46.15 251.7,45.97 252.7,46.04 253.7,46.03 254.7,46.07 255.7,46.31 256.7,46.22 257.7,46.17 258.7,46.19 259.7,46.16 260.7,46.12 261.7,46.09 262.7,46.14 263.7,46.30 264.7,46.46 265.7,46.47 266.7,46.17 267.7,46.25 268.7,46.03 269.7,45.93 270.7,46.25 271.7,46.50 272.7,46.42 273.7,46.61 274.7,46.51 275.7,46.39 276.7,46.35 277.7,46.27 278.7,46.12 279.7,46.49 280.7,46.51 281.7,46.56 282.7,46.58 283.7,46.23 284.7,46.29 285.7,46.39 286.7,46.14 287.7,46.61 288.7,46.67 289.7,46.58 290.7,46.63 291.7,46.21 292.7,46.12 293.7,46.44 294.7,46.39 295.7,46.36 296.7,46.47 297.7,46.62 298.7,46.57 299.7,46.60 300.7,46.16 301.8,46.32 302.8,46.34 303.8,46.55 304.8,46.82 305.8,46.52 306.8,46.71 307.8,46.52 308.8,46.22 309.8,46.15 310.8,46.50 311.8,46.70 312.8,46.62 313.8,46.56 314.8,46.63 315.8,46.53 316.8,46.29 317.8,46.30 318.8,46.27 319.8,46.45 320.8,46.60 321.8,46.83 322.8,46.48 323.8,46.37 324.8,46.36 325.8,46.25 326.8,46.36 327.8,46.71 328.8,46.63 329.8,46.78 330.8,46.50 331.8,46.52 332.8,46.48 333.8,46.37 334.8,46.37 335.8,46.46 336.8,46.67 337.8,46.74 338.8,46.52 339.8,46.50 340.8,46.42 341.8,46.23 342.8,46.58 343.8,46.85 344.8,46.86 345.8,46.77 346.8,46.82 347.8,46.71 348.8,46.60 349.8,46.59 350.8,46.62 351.8,46.84 352.8,46.89 353.8,46.72 354.8,46.54 355.8,46.53 356.8,46.50 357.9,46.32 358.9,46.46 359.9,46.50 360.9,46.60 361.9,46.69 362.9,46.82 363.9,46.35 364.9,46.28 365.9,46.37 366.9,46.70 367.9,46.56 368.9,46.60 369.9,46.61 370.9,46.62 371.9,46.33 372.9,46.49 373.9,46.24 374.9,46.40 375.9,46.50 376.9,46.69 377.9,46.62 378.9,46.55 379.9,46.40 380.9,46.31 381.9,46.47 382.9,46.47 383.9,46.56 384.9,46.59 385.9,46.93 386.9,46.82 387.9,46.70 388.9,46.50 389.9,46.39 390.9,46.45 391.9,46.55 392.9,46.76 393.9,46.75 394.9,46.85 395.9,46.40 396.9,46.49 397.9,46.51 398.9,46.59 399.9,46.72 400.9,46.60 401.9,46.64 402.9,46.68 403.9,46.56 404.9,46.60 405.9,46.53 406.9,46.41 407.9,46.54 408.9,46.90 409.9,46.59 410.9,46.84 411.9,46.35 412.9,46.45 414.0,46.56 415.0,46.36 416.0,46.52 417.0,46.84 418.0,46.87 419.0,46.47 420.0,46.50 421.0,46.53 422.0,46.53 423.0,46.49 424.0,46.49 425.0,46.84 426.0,46.80 427.0,46.64 428.0,46.55 429.0,46.45 430.0,46.41 431.0,46.55 432.0,46.71 433.0,46.90 434.0,46.90 435.0,46.47 436.0,46.63 437.0,46.31 438.0,46.39 439.0,46.42 440.0,46.61 441.0,46.75 442.0,46.76" fill="none" stroke="#ef5f6e" stroke-width="0.9" stroke-linejoin="round"/>
<polyline points="48.3,39.77 49.3,39.56 50.3,40.09 51.3,39.75 52.3,39.92 53.3,39.94 54.3,39.90 55.3,40.23 56.3,40.00 57.3,40.02 58.3,39.77 59.3,39.88 60.3,39.59 61.3,39.47 62.3,39.57 63.3,40.10 64.3,39.50 65.3,39.77 66.3,39.60 67.3,39.05 68.3,39.77 69.3,39.22 70.3,40.08 71.3,40.07 72.3,39.41 73.3,39.70 74.3,39.57 75.3,38.98 76.3,39.54 77.4,39.18 78.4,40.01 79.4,39.82 80.4,39.98 81.4,38.99 82.4,39.09 83.4,39.33 84.4,39.39 85.4,39.16 86.4,39.94 87.4,39.96 88.4,39.40 89.4,39.14 90.4,39.52 91.4,39.29 92.4,39.64 93.4,39.68 94.4,39.75 95.4,39.48 96.4,39.53 97.4,39.71 98.4,39.87 99.4,39.61 100.4,40.03 101.4,40.04 102.4,40.50 103.4,40.36 104.4,40.00 105.4,39.72 106.4,39.56 107.4,39.54 108.4,40.39 109.4,40.58 110.4,40.60 111.4,40.06 112.4,40.48 113.4,39.87 114.4,40.45 115.4,40.24 116.4,40.44 117.4,40.49 118.4,40.46 119.4,40.90 120.4,40.93 121.4,40.16 122.4,40.24 123.4,40.52 124.4,40.60 125.4,40.54 126.4,40.72 127.4,41.24 128.4,40.55 129.4,40.37 130.4,40.71 131.4,40.35 132.4,41.04 133.5,40.71 134.5,41.39 135.5,40.95 136.5,41.33 137.5,41.09 138.5,40.98 139.5,40.52 140.5,40.59 141.5,40.65 142.5,40.92 143.5,41.39 144.5,40.77 145.5,40.79 146.5,40.98 147.5,40.56 148.5,40.75 149.5,40.73 150.5,41.16 151.5,40.58 152.5,41.17 153.5,40.56 154.5,40.45 155.5,40.21 156.5,40.19 157.5,40.71 158.5,40.75 159.5,40.72 160.5,39.94 161.5,40.32 162.5,40.56 163.5,40.31 164.5,40.34 165.5,40.66 166.5,40.40 167.5,40.95 168.5,40.95 169.5,40.21 170.5,40.54 171.5,40.66 172.5,40.60 173.5,41.11 174.5,41.50 175.5,41.55 176.5,40.97 177.5,40.73 178.5,41.31 179.5,41.14 180.5,41.50 181.5,41.75 182.5,41.39 183.5,41.73 184.5,41.43 185.5,41.78 186.5,41.63 187.5,41.27 188.5,41.66 189.6,41.95 190.6,41.79 191.6,41.79 192.6,42.00 193.6,41.53 194.6,41.84 195.6,42.27 196.6,42.31 197.6,41.80 198.6,42.64 199.6,42.57 200.6,42.47 201.6,41.72 202.6,42.29 203.6,41.80 204.6,42.47 205.6,42.21 206.6,42.39 207.6,42.24 208.6,42.78 209.6,42.07 210.6,42.57 211.6,42.28 212.6,42.09 213.6,42.73 214.6,42.75 215.6,42.33 216.6,42.97 217.6,42.35 218.6,42.05 219.6,42.76 220.6,42.86 221.6,42.74 222.6,42.70 223.6,43.04 224.6,43.02 225.6,42.99 226.6,42.74 227.6,42.84 228.6,43.12 229.6,42.83 230.6,42.96 231.6,43.26 232.6,43.42 233.6,43.34 234.6,43.31 235.6,42.97 236.6,43.35 237.6,42.98 238.6,43.37 239.6,43.09 240.6,43.69 241.6,43.71 242.6,43.33 243.6,43.42 244.6,43.21 245.7,43.75 246.7,43.21 247.7,43.46 248.7,43.33 249.7,43.64 250.7,42.92 251.7,42.91 252.7,42.96 253.7,43.80 254.7,43.42 255.7,43.94 256.7,43.30 257.7,43.61 258.7,42.94 259.7,43.58 260.7,43.76 261.7,43.83 262.7,43.76 263.7,43.94 264.7,43.84 265.7,43.73 266.7,43.01 267.7,43.54 268.7,43.59 269.7,43.35 270.7,43.29 271.7,43.94 272.7,43.44 273.7,43.33 274.7,43.56 275.7,43.21 276.7,43.12 277.7,43.66 278.7,43.62 279.7,43.37 280.7,43.63 281.7,43.67 282.7,42.99 283.7,43.52 284.7,43.58 285.7,43.53 286.7,43.34 287.7,43.75 288.7,43.29 289.7,43.11 290.7,43.56 291.7,43.06 292.7,43.02 293.7,43.86 294.7,44.09 295.7,43.46 296.7,43.43 297.7,43.41 298.7,43.51 299.7,42.87 300.7,43.57 301.8,43.35 302.8,44.08 303.8,43.60 304.8,43.96 305.8,43.37 306.8,43.47 307.8,42.94 308.8,43.21 309.8,43.46 310.8,43.62 311.8,43.43 312.8,43.53 313.8,43.09 314.8,43.43 315.8,43.82 316.8,43.85 317.8,43.80 318.8,44.22 319.8,43.97 320.8,43.77 321.8,43.47 322.8,43.04 323.8,43.80 324.8,43.93 325.8,44.01 326.8,44.00 327.8,44.09 328.8,44.10 329.8,43.97 330.8,43.70 331.8,43.05 332.8,44.02 333.8,43.84 334.8,43.82 335.8,43.78 336.8,43.52 337.8,43.16 338.8,43.60 339.8,43.63 340.8,43.28 341.8,44.19 342.8,44.26 343.8,44.20 344.8,43.78 345.8,43.49 346.8,43.49 347.8,43.43 348.8,44.09 349.8,44.21 350.8,44.28 351.8,43.91 352.8,43.78 353.8,43.79 354.8,43.35 355.8,43.29 356.8,44.15 357.9,43.66 358.9,43.74 359.9,43.92 360.9,43.43 361.9,43.68 362.9,43.27 363.9,43.91 364.9,43.37 365.9,44.18 366.9,43.78 367.9,44.22 368.9,44.11 369.9,44.11 370.9,43.33 371.9,44.10 372.9,43.48 373.9,43.82 374.9,43.59 375.9,44.00 376.9,43.51 377.9,43.79 378.9,44.06 379.9,43.96 380.9,43.98 381.9,43.63 382.9,44.52 383.9,43.93 384.9,44.33 385.9,43.47 386.9,43.53 387.9,44.16 388.9,44.12 389.9,43.77 390.9,44.10 391.9,44.14 392.9,43.76 393.9,43.58 394.9,43.39 395.9,43.82 396.9,43.87 397.9,43.97 398.9,44.17 399.9,44.02 400.9,43.92 401.9,44.12 402.9,43.50 403.9,43.50 404.9,43.95 405.9,43.97 406.9,44.21 407.9,44.53 408.9,44.48 409.9,44.22 410.9,44.24 411.9,43.67 412.9,43.91 414.0,43.86 415.0,44.09 416.0,44.03 417.0,43.88 418.0,43.83 419.0,44.30 420.0,43.97 421.0,44.46 422.0,44.27 423.0,44.55 424.0,44.44 425.0,44.24 426.0,44.40 427.0,44.03 428.0,44.00 429.0,43.89 430.0,43.93 431.0,44.30 432.0,44.24 433.0,43.86 434.0,44.45 435.0,43.55 436.0,43.98 437.0,43.94 438.0,44.24 439.0,44.69 440.0,44.76 441.0,44.12 442.0,44.26" fill="none" stroke="#1a1a1a" stroke-width="1.0" stroke-linejoin="round"/>
<polyline points="48.3,12.81 49.3,12.95 50.3,12.99 51.3,13.50 52.3,13.60 53.3,13.79 54.3,13.15 55.3,13.24 56.3,12.84 57.3,12.95 58.3,13.23 59.3,13.05 60.3,13.31 61.3,13.66 62.3,13.52 63.3,13.14 64.3,13.28 65.3,13.40 66.3,12.93 67.3,13.64 68.3,13.70 69.3,13.48 70.3,13.25 71.3,13.55 72.3,12.84 73.3,12.49 74.3,12.46 75.3,13.06 76.3,12.95 77.4,13.04 78.4,12.80 79.4,12.41 80.4,12.48 81.4,11.92 82.4,12.02 83.4,12.28 84.4,12.18 85.4,12.36 86.4,12.12 87.4,12.12 88.4,11.59 89.4,11.76 90.4,11.97 91.4,12.05 92.4,12.37 93.4,12.39 94.4,12.51 95.4,12.69 96.4,12.44 97.4,12.49 98.4,12.52 99.4,12.76 100.4,13.39 101.4,13.24 102.4,13.16 103.4,12.74 104.4,13.06 105.4,12.68 106.4,12.97 107.4,13.61 108.4,13.55 109.4,13.57 110.4,13.63 111.4,13.66 112.4,13.55 113.4,13.21 114.4,13.23 115.4,13.65 116.4,13.80 117.4,13.85 118.4,14.34 119.4,14.20 120.4,13.75 121.4,14.03 122.4,14.00 123.4,14.57 124.4,14.42 125.4,14.36 126.4,14.30 127.4,14.41 128.4,14.11 129.4,14.35 130.4,14.68 131.4,14.49 132.4,14.49 133.5,15.06 134.5,14.63 135.5,14.19 136.5,14.05 137.5,14.08 138.5,14.54 139.5,14.82 140.5,14.69 141.5,14.46 142.5,14.59 143.5,14.88 144.5,14.44 145.5,14.73 146.5,14.76 147.5,14.25 148.5,14.78 149.5,14.65 150.5,14.33 151.5,13.85 152.5,13.84 153.5,13.31 154.5,13.48 155.5,13.51 156.5,13.84 157.5,13.68 158.5,13.05 159.5,12.97 160.5,12.61 161.5,13.14 162.5,13.24 163.5,13.04 164.5,13.43 165.5,13.47 166.5,13.10 167.5,13.43 168.5,13.21 169.5,13.42 170.5,13.41 171.5,13.25 172.5,13.65 173.5,13.51 174.5,14.11 175.5,13.98 176.5,13.90 177.5,13.58 178.5,13.57 179.5,14.36 180.5,14.58 181.5,14.04 182.5,14.28 183.5,13.88 184.5,14.30 185.5,14.34 186.5,14.04 187.5,14.47 188.5,14.67 189.6,14.51 190.6,14.87 191.6,14.44 192.6,14.23 193.6,14.50 194.6,14.80 195.6,14.65 196.6,14.91 197.6,15.47 198.6,15.20 199.6,14.97 200.6,15.00 201.6,14.80 202.6,15.06 203.6,15.38 204.6,15.76 205.6,15.60 206.6,15.57 207.6,15.40 208.6,15.77 209.6,15.57 210.6,16.23 211.6,16.43 212.6,16.06 213.6,16.26 214.6,16.52 215.6,16.11 216.6,16.00 217.6,16.62 218.6,16.52 219.6,16.64 220.6,16.99 221.6,17.01 222.6,16.48 223.6,16.27 224.6,16.41 225.6,16.41 226.6,16.57 227.6,16.92 228.6,17.00 229.6,17.23 230.6,16.51 231.6,16.59 232.6,16.45 233.6,16.83 234.6,16.53 235.6,16.66 236.6,16.96 237.6,16.95 238.6,16.75 239.6,16.59 240.6,16.97 241.6,16.65 242.6,17.06 243.6,17.01 244.6,16.77 245.7,17.43 246.7,17.21 247.7,17.15 248.7,17.01 249.7,16.96 250.7,16.60 251.7,16.97 252.7,16.89 253.7,17.01 254.7,16.66 255.7,16.73 256.7,17.05 257.7,16.55 258.7,17.03 259.7,16.95 260.7,17.03 261.7,17.40 262.7,17.31 263.7,16.85 264.7,16.86 265.7,16.48 266.7,16.69 267.7,17.32 268.7,17.14 269.7,17.11 270.7,17.14 271.7,16.50 272.7,16.77 273.7,16.72 274.7,17.08 275.7,16.75 276.7,17.41 277.7,16.78 278.7,16.74 279.7,16.88 280.7,16.83 281.7,16.53 282.7,16.56 283.7,17.25 284.7,16.89 285.7,17.12 286.7,17.01 287.7,16.72 288.7,16.73 289.7,16.69 290.7,17.09 291.7,16.73 292.7,17.18 293.7,16.82 294.7,16.81 295.7,16.84 296.7,16.47 297.7,16.49 298.7,16.91 299.7,16.58 300.7,16.94 301.8,17.29 302.8,17.16 303.8,16.36 304.8,16.35 305.8,16.40 306.8,16.98 307.8,17.08 308.8,17.17 309.8,16.79 310.8,16.51 311.8,16.82 312.8,16.63 313.8,16.57 314.8,16.95 315.8,16.86 316.8,16.49 317.8,17.03 318.8,16.54 319.8,16.63 320.8,16.73 321.8,16.18 322.8,16.28 323.8,16.42 324.8,16.81 325.8,16.59 326.8,16.69 327.8,16.61 328.8,16.15 329.8,16.47 330.8,16.33 331.8,16.63 332.8,17.01 333.8,16.94 334.8,16.28 335.8,16.36 336.8,16.16 337.8,15.99 338.8,16.65 339.8,16.70 340.8,16.52 341.8,16.83 342.8,16.57 343.8,16.32 344.8,15.94 345.8,16.00 346.8,16.69 347.8,16.85 348.8,16.68 349.8,16.84 350.8,16.53 351.8,16.07 352.8,15.96 353.8,16.11 354.8,16.64 355.8,16.71 356.8,16.83 357.9,16.82 358.9,16.20 359.9,16.07 360.9,15.87 361.9,16.36 362.9,16.55 363.9,16.36 364.9,16.58 365.9,16.22 366.9,16.62 367.9,16.42 368.9,16.40 369.9,16.30 370.9,16.47 371.9,16.01 372.9,16.58 373.9,16.26 374.9,16.54 375.9,16.29 376.9,16.24 377.9,16.22 378.9,15.96 379.9,16.46 380.9,16.06 381.9,16.55 382.9,16.41 383.9,15.80 384.9,16.13 385.9,15.90 386.9,15.92 387.9,16.40 388.9,16.08 389.9,15.89 390.9,15.87 391.9,15.81 392.9,16.10 393.9,16.20 394.9,15.84 395.9,16.24 396.9,16.14 397.9,16.51 398.9,16.06 399.9,16.19 400.9,15.54 401.9,16.19 402.9,15.78 403.9,16.50 404.9,16.10 405.9,15.97 406.9,16.09 407.9,16.17 408.9,15.82 409.9,16.09 410.9,16.17 411.9,16.26 412.9,16.49 414.0,16.25 415.0,16.46 416.0,15.85 417.0,16.44 418.0,16.24 419.0,16.52 420.0,16.71 421.0,16.77 422.0,16.54 423.0,16.22 424.0,16.52 425.0,16.24 426.0,16.29 427.0,16.83 428.0,16.91 429.0,16.72 430.0,16.70 431.0,16.66 432.0,16.53 433.0,16.41 434.0,16.36 435.0,16.72 436.0,17.25 437.0,17.15 438.0,17.28 439.0,16.96 440.0,16.61 441.0,16.72 442.0,16.40" fill="none" stroke="#1a1a1a" stroke-width="1.0" stroke-linejoin="round"/>
<path d="M48.3,134.1L50.0,137.1L46.6,137.1Z" fill="#cfe4f6" stroke="#8cc4ee" stroke-width="0.7"/>
<polygon points="48.30,133.10 48.88,134.50 50.39,134.62 49.24,135.61 49.59,137.08 48.30,136.29 47.01,137.08 47.36,135.61 46.21,134.62 47.72,134.50" fill="#f8c0c6" stroke="#f3909a" stroke-width="0.6"/>
<circle cx="48.3" cy="126.8" r="1.7" fill="#999" stroke="#333" stroke-width="0.8"/>
<path d="M48.3,75.2L50.3,78.7L46.3,78.7Z" fill="#fff" stroke="#62aee8" stroke-width="0.7"/>
<path d="M48.3,57.2L50.3,60.7L46.3,60.7Z" fill="#3a94dc" stroke="#3a94dc" stroke-width="0.7"/>
<polygon points="48.30,56.50 48.88,57.90 50.39,58.02 49.24,59.01 49.59,60.48 48.30,59.69 47.01,60.48 47.36,59.01 46.21,58.02 47.72,57.90" fill="#fff" stroke="#f27b88" stroke-width="0.6"/>
<circle cx="48.3" cy="39.9" r="1.8" fill="#fff" stroke="#222" stroke-width="0.8"/>
<polygon points="48.30,37.60 48.91,39.06 50.49,39.19 49.28,40.22 49.65,41.76 48.30,40.93 46.95,41.76 47.32,40.22 46.11,39.19 47.69,39.06" fill="#ef5f6e" stroke="#ef5f6e" stroke-width="0.6"/>
<circle cx="48.3" cy="13.3" r="1.6" fill="#000" stroke="#000" stroke-width="0.8"/>
<path d="M146.6,134.1L148.3,137.1L144.9,137.1Z" fill="#cfe4f6" stroke="#8cc4ee" stroke-width="0.7"/>
<polygon points="146.60,133.10 147.18,134.50 148.69,134.62 147.54,135.61 147.89,137.08 146.60,136.29 145.31,137.08 145.66,135.61 144.51,134.62 146.02,134.50" fill="#f8c0c6" stroke="#f3909a" stroke-width="0.6"/>
<circle cx="146.6" cy="126.8" r="1.7" fill="#999" stroke="#333" stroke-width="0.8"/>
<path d="M146.6,76.6L148.6,80.1L144.6,80.1Z" fill="#fff" stroke="#62aee8" stroke-width="0.7"/>
<path d="M146.6,58.3L148.6,61.8L144.6,61.8Z" fill="#3a94dc" stroke="#3a94dc" stroke-width="0.7"/>
<polygon points="146.60,60.00 147.18,61.40 148.69,61.52 147.54,62.51 147.89,63.98 146.60,63.19 145.31,63.98 145.66,62.51 144.51,61.52 146.02,61.40" fill="#fff" stroke="#f27b88" stroke-width="0.6"/>
<circle cx="146.6" cy="41.1" r="1.8" fill="#fff" stroke="#222" stroke-width="0.8"/>
<polygon points="146.60,41.50 147.21,42.96 148.79,43.09 147.58,44.12 147.95,45.66 146.60,44.83 145.25,45.66 145.62,44.12 144.41,43.09 145.99,42.96" fill="#ef5f6e" stroke="#ef5f6e" stroke-width="0.6"/>
<circle cx="146.6" cy="14.6" r="1.6" fill="#000" stroke="#000" stroke-width="0.8"/>
<path d="M245.2,134.1L246.9,137.1L243.5,137.1Z" fill="#cfe4f6" stroke="#8cc4ee" stroke-width="0.7"/>
<polygon points="245.20,133.10 245.78,134.50 247.29,134.62 246.14,135.61 246.49,137.08 245.20,136.29 243.91,137.08 244.26,135.61 243.11,134.62 244.62,134.50" fill="#f8c0c6" stroke="#f3909a" stroke-width="0.6"/>
<circle cx="245.2" cy="126.8" r="1.7" fill="#999" stroke="#333" stroke-width="0.8"/>
<path d="M245.2,76.7L247.2,80.2L243.2,80.2Z" fill="#fff" stroke="#62aee8" stroke-width="0.7"/>
<path d="M245.2,58.5L247.2,62.0L243.2,62.0Z" fill="#3a94dc" stroke="#3a94dc" stroke-width="0.7"/>
<polygon points="245.20,62.30 245.78,63.70 247.29,63.82 246.14,64.81 246.49,66.28 245.20,65.49 243.91,66.28 244.26,64.81 243.11,63.82 244.62,63.70" fill="#fff" stroke="#f27b88" stroke-width="0.6"/>
<circle cx="245.2" cy="43.4" r="1.8" fill="#fff" stroke="#222" stroke-width="0.8"/>
<polygon points="245.20,43.70 245.81,45.16 247.39,45.29 246.18,46.32 246.55,47.86 245.20,47.03 243.85,47.86 244.22,46.32 243.01,45.29 244.59,45.16" fill="#ef5f6e" stroke="#ef5f6e" stroke-width="0.6"/>
<circle cx="245.2" cy="16.9" r="1.6" fill="#000" stroke="#000" stroke-width="0.8"/>
<path d="M343.5,134.1L345.2,137.1L341.8,137.1Z" fill="#cfe4f6" stroke="#8cc4ee" stroke-width="0.7"/>
<polygon points="343.50,133.10 344.08,134.50 345.59,134.62 344.44,135.61 344.79,137.08 343.50,136.29 342.21,137.08 342.56,135.61 341.41,134.62 342.92,134.50" fill="#f8c0c6" stroke="#f3909a" stroke-width="0.6"/>
<circle cx="343.5" cy="126.8" r="1.7" fill="#999" stroke="#333" stroke-width="0.8"/>
<path d="M343.5,76.0L345.5,79.5L341.5,79.5Z" fill="#fff" stroke="#62aee8" stroke-width="0.7"/>
<path d="M343.5,57.5L345.5,61.0L341.5,61.0Z" fill="#3a94dc" stroke="#3a94dc" stroke-width="0.7"/>
<polygon points="343.50,63.60 344.08,65.00 345.59,65.12 344.44,66.11 344.79,67.58 343.50,66.79 342.21,67.58 342.56,66.11 341.41,65.12 342.92,65.00" fill="#fff" stroke="#f27b88" stroke-width="0.6"/>
<circle cx="343.5" cy="43.7" r="1.8" fill="#fff" stroke="#222" stroke-width="0.8"/>
<polygon points="343.50,44.30 344.11,45.76 345.69,45.89 344.48,46.92 344.85,48.46 343.50,47.63 342.15,48.46 342.52,46.92 341.31,45.89 342.89,45.76" fill="#ef5f6e" stroke="#ef5f6e" stroke-width="0.6"/>
<circle cx="343.5" cy="16.7" r="1.6" fill="#000" stroke="#000" stroke-width="0.8"/>
<path d="M442.0,134.1L443.7,137.1L440.3,137.1Z" fill="#cfe4f6" stroke="#8cc4ee" stroke-width="0.7"/>
<polygon points="442.00,133.10 442.58,134.50 444.09,134.62 442.94,135.61 443.29,137.08 442.00,136.29 440.71,137.08 441.06,135.61 439.91,134.62 441.42,134.50" fill="#f8c0c6" stroke="#f3909a" stroke-width="0.6"/>
<circle cx="442.0" cy="126.8" r="1.7" fill="#999" stroke="#333" stroke-width="0.8"/>
<path d="M442.0,75.1L444.0,78.6L440.0,78.6Z" fill="#fff" stroke="#62aee8" stroke-width="0.7"/>
<path d="M442.0,56.3L444.0,59.8L440.0,59.8Z" fill="#3a94dc" stroke="#3a94dc" stroke-width="0.7"/>
<polygon points="442.00,63.60 442.58,65.00 444.09,65.12 442.94,66.11 443.29,67.58 442.00,66.79 440.71,67.58 441.06,66.11 439.91,65.12 441.42,65.00" fill="#fff" stroke="#f27b88" stroke-width="0.6"/>
<circle cx="442.0" cy="44.2" r="1.8" fill="#fff" stroke="#222" stroke-width="0.8"/>
<polygon points="442.00,44.30 442.61,45.76 444.19,45.89 442.98,46.92 443.35,48.46 442.00,47.63 440.65,48.46 441.02,46.92 439.81,45.89 441.39,45.76" fill="#ef5f6e" stroke="#ef5f6e" stroke-width="0.6"/>
<circle cx="442.0" cy="16.9" r="1.6" fill="#000" stroke="#000" stroke-width="0.8"/>
<text transform="translate(45.70,92.90) scale(1,1.08)" font-size="11.6" font-weight="bold" font-style="normal" fill="#000" text-anchor="start" >MXene fiber</text>
<path d="M95.4,98.6H112.4" stroke="#555" stroke-width="1"/>
<circle cx="104.0" cy="98.6" r="1.8" fill="#999" stroke="#555" stroke-width="0.8"/>
<text transform="translate(113.6,102.0) scale(1,1.0)" font-size="11.5" font-weight="bold" font-style="italic" fill="#000">SE<tspan font-size="7.4" font-style="normal" dy="2.5">R</tspan></text>
<path d="M95.4,108.0H112.4" stroke="#555" stroke-width="1"/>
<circle cx="104.0" cy="108.0" r="1.8" fill="#fff" stroke="#555" stroke-width="0.8"/>
<text transform="translate(113.6,111.4) scale(1,1.0)" font-size="11.5" font-weight="bold" font-style="italic" fill="#000">SE<tspan font-size="7.4" font-style="normal" dy="2.5">A</tspan></text>
<path d="M95.4,117.4H112.4" stroke="#111" stroke-width="1"/>
<circle cx="104.0" cy="117.4" r="1.8" fill="#000" stroke="#111" stroke-width="0.8"/>
<text transform="translate(113.6,120.8) scale(1,1.0)" font-size="11.5" font-weight="bold" font-style="italic" fill="#000">SE<tspan font-size="7.4" font-style="normal" dy="2.5">T</tspan></text>
<text transform="translate(209.30,92.70) scale(1,1.08)" font-size="11.4" font-weight="bold" font-style="normal" fill="#4a9ee2" text-anchor="start" >MGP</text>
<path d="M222.1,98.6H239" stroke="#8cc4ee" stroke-width="1"/>
<path d="M231.0,96.1L232.9,99.5L229.1,99.5Z" fill="#cfe4f6" stroke="#8cc4ee" stroke-width="0.7"/>
<text transform="translate(239.6,102.0) scale(1,1.0)" font-size="11.5" font-weight="bold" font-style="italic" fill="#4a9ee2">SE<tspan font-size="7.4" font-style="normal" dy="2.5">R</tspan></text>
<path d="M222.1,108.0H239" stroke="#62aee8" stroke-width="1"/>
<path d="M231.0,105.5L232.9,108.9L229.1,108.9Z" fill="#fff" stroke="#62aee8" stroke-width="0.7"/>
<text transform="translate(239.6,111.4) scale(1,1.0)" font-size="11.5" font-weight="bold" font-style="italic" fill="#4a9ee2">SE<tspan font-size="7.4" font-style="normal" dy="2.5">A</tspan></text>
<path d="M222.1,117.4H239" stroke="#3a94dc" stroke-width="1"/>
<path d="M231.0,114.9L232.9,118.3L229.1,118.3Z" fill="#3a94dc" stroke="#3a94dc" stroke-width="0.7"/>
<text transform="translate(239.6,120.8) scale(1,1.0)" font-size="11.5" font-weight="bold" font-style="italic" fill="#4a9ee2">SE<tspan font-size="7.4" font-style="normal" dy="2.5">T</tspan></text>
<text transform="translate(324.40,92.70) scale(1,1.08)" font-size="11.5" font-weight="bold" font-style="normal" fill="#f0606e" text-anchor="start" >MGP-T</text>
<path d="M347.4,98.6H364.2" stroke="#f3909a" stroke-width="1"/>
<polygon points="355.90,96.30 356.51,97.76 358.09,97.89 356.88,98.92 357.25,100.46 355.90,99.63 354.55,100.46 354.92,98.92 353.71,97.89 355.29,97.76" fill="#f8c0c6" stroke="#f3909a" stroke-width="0.6"/>
<text transform="translate(364.8,102.0) scale(1,1.0)" font-size="11.5" font-weight="bold" font-style="italic" fill="#f0606e">SE<tspan font-size="7.4" font-style="normal" dy="2.5">R</tspan></text>
<path d="M347.4,108.0H364.2" stroke="#f27b88" stroke-width="1"/>
<polygon points="355.90,105.70 356.51,107.16 358.09,107.29 356.88,108.32 357.25,109.86 355.90,109.03 354.55,109.86 354.92,108.32 353.71,107.29 355.29,107.16" fill="#fff" stroke="#f27b88" stroke-width="0.6"/>
<text transform="translate(364.8,111.4) scale(1,1.0)" font-size="11.5" font-weight="bold" font-style="italic" fill="#f0606e">SE<tspan font-size="7.4" font-style="normal" dy="2.5">A</tspan></text>
<path d="M347.4,117.4H364.2" stroke="#ef5f6e" stroke-width="1"/>
<polygon points="355.90,115.10 356.51,116.56 358.09,116.69 356.88,117.72 357.25,119.26 355.90,118.44 354.55,119.26 354.92,117.72 353.71,116.69 355.29,116.56" fill="#ef5f6e" stroke="#ef5f6e" stroke-width="0.6"/>
<text transform="translate(364.8,120.8) scale(1,1.0)" font-size="11.5" font-weight="bold" font-style="italic" fill="#f0606e">SE<tspan font-size="7.4" font-style="normal" dy="2.5">T</tspan></text>
<defs><pattern id="dots" width="2" height="2" patternUnits="userSpaceOnUse"><rect width="2" height="2" fill="none"/><rect width="1" height="1" fill="rgba(0,0,0,0.06)"/></pattern><radialGradient id="ball" cx="0.38" cy="0.35" r="0.7"><stop offset="0" stop-color="#e8f6ff"/><stop offset="0.35" stop-color="#6cc4fb"/><stop offset="1" stop-color="#2f8fe0"/></radialGradient><linearGradient id="cone" x1="0" y1="0" x2="1" y2="0"><stop offset="0" stop-color="#cfcfcf" stop-opacity="0.75"/><stop offset="1" stop-color="#e6e6e6" stop-opacity="0.45"/></linearGradient></defs>
<rect x="510.10" y="133.30" width="15.55" height="20.70" fill="#8f8f8f" stroke="#555" stroke-width="0.4"/>
<rect x="510.10" y="133.30" width="15.55" height="20.70" fill="url(#dots)"/>
<rect x="525.65" y="63.31" width="15.55" height="90.69" fill="#b0444a" stroke="#555" stroke-width="0.4"/>
<rect x="525.65" y="63.31" width="15.55" height="90.69" fill="url(#dots)"/>
<rect x="541.20" y="42.61" width="15.55" height="111.39" fill="#44709c" stroke="#555" stroke-width="0.4"/>
<rect x="541.20" y="42.61" width="15.55" height="111.39" fill="url(#dots)"/>
<rect x="568.30" y="133.30" width="15.55" height="20.70" fill="#8f8f8f" stroke="#555" stroke-width="0.4"/>
<rect x="568.30" y="133.30" width="15.55" height="20.70" fill="url(#dots)"/>
<rect x="583.85" y="50.29" width="15.55" height="103.71" fill="#b0444a" stroke="#555" stroke-width="0.4"/>
<rect x="583.85" y="50.29" width="15.55" height="103.71" fill="url(#dots)"/>
<rect x="599.40" y="30.01" width="15.55" height="123.99" fill="#44709c" stroke="#555" stroke-width="0.4"/>
<rect x="599.40" y="30.01" width="15.55" height="123.99" fill="url(#dots)"/>
<rect x="626.50" y="133.30" width="15.55" height="20.70" fill="#8f8f8f" stroke="#555" stroke-width="0.4"/>
<rect x="626.50" y="133.30" width="15.55" height="20.70" fill="url(#dots)"/>
<rect x="642.05" y="45.38" width="15.55" height="108.62" fill="#b0444a" stroke="#555" stroke-width="0.4"/>
<rect x="642.05" y="45.38" width="15.55" height="108.62" fill="url(#dots)"/>
<rect x="657.60" y="24.47" width="15.55" height="129.53" fill="#44709c" stroke="#555" stroke-width="0.4"/>
<rect x="657.60" y="24.47" width="15.55" height="129.53" fill="url(#dots)"/>
<rect x="498.5" y="4.4" width="185.70000000000005" height="149.6" fill="none" stroke="#333" stroke-width="1.1"/>
<text transform="translate(495.30,157.40) scale(1,1.08)" font-size="9.6" font-weight="bold" font-style="normal" fill="#000" text-anchor="end" >0</text>
<text transform="translate(495.30,114.72) scale(1,1.08)" font-size="9.6" font-weight="bold" font-style="normal" fill="#000" text-anchor="end" >20</text>
<text transform="translate(495.30,72.04) scale(1,1.08)" font-size="9.6" font-weight="bold" font-style="normal" fill="#000" text-anchor="end" >40</text>
<text transform="translate(495.30,29.36) scale(1,1.08)" font-size="9.6" font-weight="bold" font-style="normal" fill="#000" text-anchor="end" >60</text>
<text transform="translate(532.40,175.5) scale(1,1.08)" font-size="11.3" font-weight="bold" text-anchor="middle">MGP-T<tspan font-size="8.6" font-weight="normal" dy="3.2">1</tspan></text>
<text transform="translate(590.60,175.5) scale(1,1.08)" font-size="11.3" font-weight="bold" text-anchor="middle">MGP-T<tspan font-size="8.6" font-weight="normal" dy="3.2">2</tspan></text>
<text transform="translate(648.80,175.5) scale(1,1.08)" font-size="11.3" font-weight="bold" text-anchor="middle">MGP-T<tspan font-size="8.6" font-weight="normal" dy="3.2">3</tspan></text>
<path d="M498.5,154.00h3 M498.5,111.32h3 M498.5,68.64h3 M498.5,25.96h3 M498.5,132.66h2 M498.5,89.98h2 M498.5,47.30h2 M533.40,154.0v-3 M591.60,154.0v-3 M649.80,154.0v-3" stroke="#333" stroke-width="1" fill="none"/>
<text transform="translate(477.7,78.2) rotate(-90) scale(1,1.08)" font-size="11.7" font-weight="bold" text-anchor="middle"><tspan font-style="italic">EMI SE</tspan> (dB)</text>
<text transform="translate(468.20,15.80) scale(1,1.08)" font-size="18.5" font-weight="bold" font-style="normal" fill="#000" text-anchor="start" >b</text>
<rect x="505" y="9.0" width="17.9" height="8.6" fill="#8f8f8f" stroke="#666" stroke-width="0.4"/>
<text transform="translate(524.8,17.3) scale(1,1.08)" font-size="11.2" font-weight="normal" font-style="italic" fill="#bdbdbd">SE<tspan font-size="8.3" font-style="normal" dy="2.8">R</tspan></text>
<rect x="505" y="19.1" width="17.9" height="7.8" fill="#b0444a" stroke="#666" stroke-width="0.4"/>
<text transform="translate(524.8,27.4) scale(1,1.08)" font-size="11.2" font-weight="bold" font-style="italic" fill="#e8404e">SE<tspan font-size="8.3" font-style="normal" dy="2.8">A</tspan></text>
<rect x="505" y="28.7" width="17.9" height="8.1" fill="#44709c" stroke="#666" stroke-width="0.4"/>
<text transform="translate(524.8,37.0) scale(1,1.08)" font-size="11.2" font-weight="bold" font-style="italic" fill="#5f9fdf">SE<tspan font-size="8.3" font-style="normal" dy="2.8">T</tspan></text>
<rect x="498.8" y="190.2" width="185.2" height="149.5" fill="none" stroke="#333" stroke-width="1.1"/>
<text transform="translate(495.60,343.40) scale(1,1.08)" font-size="9.4" font-weight="bold" font-style="normal" fill="#000" text-anchor="end" >0</text>
<text transform="translate(495.60,316.10) scale(1,1.08)" font-size="9.4" font-weight="bold" font-style="normal" fill="#000" text-anchor="end" >20</text>
<text transform="translate(495.60,288.80) scale(1,1.08)" font-size="9.4" font-weight="bold" font-style="normal" fill="#000" text-anchor="end" >40</text>
<text transform="translate(495.60,261.50) scale(1,1.08)" font-size="9.4" font-weight="bold" font-style="normal" fill="#000" text-anchor="end" >60</text>
<text transform="translate(495.60,234.20) scale(1,1.08)" font-size="9.4" font-weight="bold" font-style="normal" fill="#000" text-anchor="end" >80</text>
<text transform="translate(495.60,206.90) scale(1,1.08)" font-size="9.4" font-weight="bold" font-style="normal" fill="#000" text-anchor="end" >100</text>
<text transform="translate(505.50,350.70) scale(1,1.08)" font-size="9.5" font-weight="bold" font-style="normal" fill="#000" text-anchor="middle" >0</text>
<text transform="translate(538.10,350.70) scale(1,1.08)" font-size="9.5" font-weight="bold" font-style="normal" fill="#000" text-anchor="middle" >10000</text>
<text transform="translate(570.70,350.70) scale(1,1.08)" font-size="9.5" font-weight="bold" font-style="normal" fill="#000" text-anchor="middle" >20000</text>
<text transform="translate(603.30,350.70) scale(1,1.08)" font-size="9.5" font-weight="bold" font-style="normal" fill="#000" text-anchor="middle" >30000</text>
<text transform="translate(635.90,350.70) scale(1,1.08)" font-size="9.5" font-weight="bold" font-style="normal" fill="#000" text-anchor="middle" >40000</text>
<text transform="translate(668.50,350.70) scale(1,1.08)" font-size="9.5" font-weight="bold" font-style="normal" fill="#000" text-anchor="middle" >50000</text>
<path d="M498.8,340.10h3 M498.8,312.80h3 M498.8,285.50h3 M498.8,258.20h3 M498.8,230.90h3 M498.8,203.60h3 M498.8,326.45h2 M498.8,299.15h2 M498.8,271.85h2 M498.8,244.55h2 M498.8,217.25h2 M498.8,189.95h2 M505.50,339.7v-3 M538.10,339.7v-3 M570.70,339.7v-3 M603.30,339.7v-3 M635.90,339.7v-3 M668.50,339.7v-3 M521.80,339.7v-2 M554.40,339.7v-2 M587.00,339.7v-2 M619.60,339.7v-2 M652.20,339.7v-2" stroke="#333" stroke-width="1" fill="none"/>
<text transform="translate(591.00,362.20) scale(1,1.08)" font-size="11.5" font-weight="bold" font-style="normal" fill="#000" text-anchor="middle" >Bending cycles</text>
<text transform="translate(478.7,263.9) rotate(-90) scale(1,1.08)" font-size="11.75" font-weight="bold" text-anchor="middle"><tspan font-style="italic">EMI SE</tspan> retention (%)</text>
<text transform="translate(468.20,203.90) scale(1,1.08)" font-size="18.5" font-weight="bold" font-style="normal" fill="#000" text-anchor="start" >d</text>
<text transform="translate(679.30,211.90) scale(1,1.08)" font-size="11.6" font-weight="bold" font-style="normal" fill="#000" text-anchor="end" >~87.8%</text>
<circle cx="505.50" cy="203.8" r="2.45" fill="url(#ball)"/>
<circle cx="512.02" cy="203.8" r="2.45" fill="url(#ball)"/>
<circle cx="518.54" cy="203.9" r="2.45" fill="url(#ball)"/>
<circle cx="525.06" cy="204.0" r="2.45" fill="url(#ball)"/>
<circle cx="531.58" cy="204.2" r="2.45" fill="url(#ball)"/>
<circle cx="538.10" cy="204.2" r="2.45" fill="url(#ball)"/>
<circle cx="544.62" cy="204.3" r="2.45" fill="url(#ball)"/>
<circle cx="551.14" cy="204.6" r="2.45" fill="url(#ball)"/>
<circle cx="557.66" cy="204.8" r="2.45" fill="url(#ball)"/>
<circle cx="564.18" cy="205.4" r="2.45" fill="url(#ball)"/>
<circle cx="570.70" cy="205.4" r="2.45" fill="url(#ball)"/>
<circle cx="577.22" cy="206.6" r="2.45" fill="url(#ball)"/>
<circle cx="583.74" cy="207.4" r="2.45" fill="url(#ball)"/>
<circle cx="590.26" cy="210.6" r="2.45" fill="url(#ball)"/>
<circle cx="596.78" cy="212.2" r="2.45" fill="url(#ball)"/>
<circle cx="603.30" cy="213.8" r="2.45" fill="url(#ball)"/>
<circle cx="609.82" cy="215.5" r="2.45" fill="url(#ball)"/>
<circle cx="616.34" cy="219.0" r="2.45" fill="url(#ball)"/>
<circle cx="622.86" cy="219.0" r="2.45" fill="url(#ball)"/>
<circle cx="629.38" cy="219.0" r="2.45" fill="url(#ball)"/>
<circle cx="635.90" cy="219.5" r="2.45" fill="url(#ball)"/>
<circle cx="642.42" cy="220" r="2.45" fill="url(#ball)"/>
<circle cx="648.94" cy="220" r="2.45" fill="url(#ball)"/>
<circle cx="655.46" cy="220" r="2.45" fill="url(#ball)"/>
<circle cx="661.98" cy="220" r="2.45" fill="url(#ball)"/>
<circle cx="668.50" cy="220" r="2.45" fill="url(#ball)"/>
<defs><pattern id="knit" width="2.2" height="2.2" patternUnits="userSpaceOnUse"><rect width="2.2" height="2.2" fill="#e06468"/><circle cx="1.1" cy="1.1" r="0.6" fill="#c8484e"/></pattern></defs>
<path d="M518.6,262 Q518.9,259.4 521.5,259.4 L558.5,259.4 Q560.8,259.4 561,262 L565.6,292.8 L561,298.3 L515.2,298.3 L512.5,294.2 Z" fill="url(#knit)"/>
<path d="M513,293.5 L565,293.5 L561,298.3 L515.2,298.3 Z" fill="#e9868a" opacity="0.6"/>
<path d="M575.5,277.5 H617" stroke="#000" stroke-width="1.8"/><path d="M615,274 L622,277.5 L615,281 Z" fill="#000"/>
<text transform="translate(598.00,273.00) scale(1,1.08)" font-size="11.5" font-weight="bold" font-style="normal" fill="#000" text-anchor="middle" >Bending</text>
<path d="M630.9,299.3 L632.3,272 A18.7,17.5 0 0 1 669.7,272 L672.1,300.1 L667.4,299.6 C666.5,292 664.5,287 662,284 C659,281.5 655,281 651.1,281 C647,281 644,282 641.5,284 C638.5,287 636,293 634.8,299.2 Z" fill="url(#knit)"/>
<path d="M634.5,282 C640,279 646,278.5 651,278.5 C657,278.5 663,279 668,282 L668,285 C663,282.5 657,281.5 651,281.5 C646,281.5 640,282.5 634.5,285 Z" fill="#c9474d" opacity="0.5"/>
<text transform="translate(3.00,202.10) scale(1,1.08)" font-size="18.5" font-weight="bold" font-style="normal" fill="#000" text-anchor="start" >c</text>
<defs><pattern id="fiber" width="1.8" height="1.8" patternUnits="userSpaceOnUse" patternTransform="rotate(-55)"><rect width="0.6" height="1.8" fill="#8adbe8" opacity="0.55"/></pattern></defs>
<defs><pattern id="fringe" width="2" height="4" patternUnits="userSpaceOnUse" patternTransform="rotate(-18)"><rect width="2" height="4" fill="#5cc8da" opacity="0.4"/><rect width="1.1" height="4" fill="#4abfd3"/></pattern><pattern id="patch" width="2.4" height="2.4" patternUnits="userSpaceOnUse" patternTransform="rotate(-22)"><rect width="2.4" height="2.4" fill="#74b4cc"/><rect width="1.1" height="2.4" fill="#b04658"/></pattern><linearGradient id="cone2" x1="0" y1="0" x2="1" y2="0"><stop offset="0" stop-color="#d0d0d0" stop-opacity="0.55"/><stop offset="0.35" stop-color="#e0e0e0" stop-opacity="0.33"/><stop offset="0.68" stop-color="#eeeeee" stop-opacity="0.17"/><stop offset="1" stop-color="#f6f6f6" stop-opacity="0.2"/></linearGradient></defs>
<path d="M0.70,291.70 C0.67,291.37 0.45,290.55 2.00,289.00 C3.55,287.45 7.00,284.98 10.00,282.40 C13.00,279.82 16.67,276.40 20.00,273.50 C23.33,270.60 26.67,267.67 30.00,265.00 C33.33,262.33 36.67,260.00 40.00,257.50 C43.33,255.00 47.50,251.93 50.00,250.00 C52.50,248.07 53.33,246.92 55.00,245.90 C56.67,244.88 58.33,244.35 60.00,243.90 C61.67,243.45 63.33,243.20 65.00,243.20 C66.67,243.20 68.33,243.40 70.00,243.90 C71.67,244.40 73.33,245.35 75.00,246.20 C76.67,247.05 78.33,248.17 80.00,249.00 C81.67,249.83 83.00,250.47 85.00,251.20 C87.00,251.93 87.83,252.07 92.00,253.40 C96.17,254.73 105.33,258.02 110.00,259.20 C114.67,260.38 116.67,260.37 120.00,260.50 C123.33,260.63 126.67,260.58 130.00,260.00 C133.33,259.42 136.67,258.33 140.00,257.00 C143.33,255.67 146.67,253.77 150.00,252.00 C153.33,250.23 156.82,247.97 160.00,246.40 C163.18,244.83 166.00,243.27 169.10,242.60 C172.20,241.93 175.43,241.57 178.60,242.40 C181.77,243.23 185.23,245.00 188.10,247.60 C190.97,250.20 192.93,252.77 195.80,258.00 C198.67,263.23 201.97,271.87 205.30,279.00 C208.63,286.13 214.85,297.63 215.80,300.80 C216.75,303.97 213.38,299.75 211.00,298.00 C208.62,296.25 204.67,292.28 201.50,290.30 C198.33,288.32 195.18,286.98 192.00,286.10 C188.82,285.22 185.58,285.08 182.40,285.00 C179.22,284.92 176.40,284.87 172.90,285.60 C169.40,286.33 165.22,287.67 161.40,289.40 C157.58,291.13 153.57,293.48 150.00,296.00 C146.43,298.52 144.17,302.08 140.00,304.50 C135.83,306.92 131.67,309.25 125.00,310.50 C118.33,311.75 107.50,312.42 100.00,312.00 C92.50,311.58 85.00,309.42 80.00,308.00 C75.00,306.58 73.33,305.08 70.00,303.50 C66.67,301.92 64.17,300.33 60.00,298.50 C55.83,296.67 50.00,294.38 45.00,292.50 C40.00,290.62 34.17,288.70 30.00,287.20 C25.83,285.70 23.50,283.50 20.00,283.50 C16.50,283.50 11.97,285.95 9.00,287.20 C6.03,288.45 3.58,290.25 2.20,291.00 C0.82,291.75 0.73,292.03 0.70,291.70Z" fill="url(#fringe)"/>
<path d="M0.70,291.70 C0.67,291.37 0.45,290.55 2.00,289.00 C3.55,287.45 7.00,284.98 10.00,282.40 C13.00,279.82 16.67,276.40 20.00,273.50 C23.33,270.60 26.67,267.67 30.00,265.00 C33.33,262.33 36.67,260.00 40.00,257.50 C43.33,255.00 47.50,251.93 50.00,250.00 C52.50,248.07 53.33,246.92 55.00,245.90 C56.67,244.88 58.33,244.35 60.00,243.90 C61.67,243.45 63.33,243.20 65.00,243.20 C66.67,243.20 68.33,243.40 70.00,243.90 C71.67,244.40 73.33,245.35 75.00,246.20 C76.67,247.05 78.33,248.17 80.00,249.00 C81.67,249.83 83.00,250.47 85.00,251.20 C87.00,251.93 87.83,252.07 92.00,253.40 C96.17,254.73 105.33,258.02 110.00,259.20 C114.67,260.38 116.67,260.37 120.00,260.50 C123.33,260.63 126.67,260.58 130.00,260.00 C133.33,259.42 136.67,258.33 140.00,257.00 C143.33,255.67 146.67,253.77 150.00,252.00 C153.33,250.23 156.82,247.97 160.00,246.40 C163.18,244.83 166.00,243.27 169.10,242.60 C172.20,241.93 175.43,241.57 178.60,242.40 C181.77,243.23 185.23,245.00 188.10,247.60 C190.97,250.20 192.93,252.77 195.80,258.00 C198.67,263.23 201.97,271.87 205.30,279.00 C208.63,286.13 215.18,298.30 215.80,300.80 C216.42,303.30 211.47,296.63 209.00,294.00 C206.53,291.37 203.83,287.33 201.00,285.00 C198.17,282.67 195.10,281.08 192.00,280.00 C188.90,278.92 185.58,278.67 182.40,278.50 C179.22,278.33 176.40,278.25 172.90,279.00 C169.40,279.75 165.22,281.25 161.40,283.00 C157.58,284.75 153.57,287.00 150.00,289.50 C146.43,292.00 144.17,295.58 140.00,298.00 C135.83,300.42 131.67,302.75 125.00,304.00 C118.33,305.25 107.50,305.92 100.00,305.50 C92.50,305.08 85.00,302.92 80.00,301.50 C75.00,300.08 73.33,298.58 70.00,297.00 C66.67,295.42 64.17,293.75 60.00,292.00 C55.83,290.25 50.00,288.13 45.00,286.50 C40.00,284.87 34.17,283.03 30.00,282.20 C25.83,281.37 23.50,280.78 20.00,281.50 C16.50,282.22 11.97,284.92 9.00,286.50 C6.03,288.08 3.58,290.13 2.20,291.00 C0.82,291.87 0.73,292.03 0.70,291.70Z" fill="#5ccbdc"/>
<path d="M0.70,291.70 C0.67,291.37 0.45,290.55 2.00,289.00 C3.55,287.45 7.00,284.98 10.00,282.40 C13.00,279.82 16.67,276.40 20.00,273.50 C23.33,270.60 26.67,267.67 30.00,265.00 C33.33,262.33 36.67,260.00 40.00,257.50 C43.33,255.00 47.50,251.93 50.00,250.00 C52.50,248.07 53.33,246.92 55.00,245.90 C56.67,244.88 58.33,244.35 60.00,243.90 C61.67,243.45 63.33,243.20 65.00,243.20 C66.67,243.20 68.33,243.40 70.00,243.90 C71.67,244.40 73.33,245.35 75.00,246.20 C76.67,247.05 78.33,248.17 80.00,249.00 C81.67,249.83 83.00,250.47 85.00,251.20 C87.00,251.93 87.83,252.07 92.00,253.40 C96.17,254.73 105.33,258.02 110.00,259.20 C114.67,260.38 116.67,260.37 120.00,260.50 C123.33,260.63 126.67,260.58 130.00,260.00 C133.33,259.42 136.67,258.33 140.00,257.00 C143.33,255.67 146.67,253.77 150.00,252.00 C153.33,250.23 156.82,247.97 160.00,246.40 C163.18,244.83 166.00,243.27 169.10,242.60 C172.20,241.93 175.43,241.57 178.60,242.40 C181.77,243.23 185.23,245.00 188.10,247.60 C190.97,250.20 192.93,252.77 195.80,258.00 C198.67,263.23 201.97,271.87 205.30,279.00 C208.63,286.13 215.18,298.30 215.80,300.80 C216.42,303.30 211.47,296.63 209.00,294.00 C206.53,291.37 203.83,287.33 201.00,285.00 C198.17,282.67 195.10,281.08 192.00,280.00 C188.90,278.92 185.58,278.67 182.40,278.50 C179.22,278.33 176.40,278.25 172.90,279.00 C169.40,279.75 165.22,281.25 161.40,283.00 C157.58,284.75 153.57,287.00 150.00,289.50 C146.43,292.00 144.17,295.58 140.00,298.00 C135.83,300.42 131.67,302.75 125.00,304.00 C118.33,305.25 107.50,305.92 100.00,305.50 C92.50,305.08 85.00,302.92 80.00,301.50 C75.00,300.08 73.33,298.58 70.00,297.00 C66.67,295.42 64.17,293.75 60.00,292.00 C55.83,290.25 50.00,288.13 45.00,286.50 C40.00,284.87 34.17,283.03 30.00,282.20 C25.83,281.37 23.50,280.78 20.00,281.50 C16.50,282.22 11.97,284.92 9.00,286.50 C6.03,288.08 3.58,290.13 2.20,291.00 C0.82,291.87 0.73,292.03 0.70,291.70Z" fill="url(#fiber)"/>
<path d="M1,291.5 C8,285 14,282 22,281.5 C30,281.5 40,283 46,285.5 L44,287 C36,285 28,284 22,284 C14,285 8,288 2,292 Z" fill="#3fb3c8" opacity="0.8"/>
<path d="M73.50,254.10 C76.25,255.23 85.58,259.23 90.00,260.90 C94.42,262.57 96.67,263.25 100.00,264.10 C103.33,264.95 106.67,265.73 110.00,266.00 C113.33,266.27 116.67,266.07 120.00,265.70 C123.33,265.33 126.67,264.75 130.00,263.80 C133.33,262.85 136.67,261.30 140.00,260.00 C143.33,258.70 146.67,257.33 150.00,256.00 C153.33,254.67 156.67,253.38 160.00,252.00 C163.33,250.62 167.95,248.50 170.00,247.70 C172.05,246.90 171.92,247.28 172.30,247.20 L172.8,273.7 L150.00,283.00 C147.00,284.83 137.00,291.83 132.00,294.00 C127.00,296.17 125.33,295.75 120.00,296.00 C114.67,296.25 106.67,296.22 100.00,295.50 C93.33,294.78 86.67,292.82 80.00,291.70 C73.33,290.58 63.33,289.28 60.00,288.80 L49.8,280.9 Z" fill="url(#patch)"/>
<defs><linearGradient id="gap" x1="0" y1="0" x2="0" y2="1"><stop offset="0" stop-color="#c8c8c8"/><stop offset="0.5" stop-color="#ececec"/><stop offset="1" stop-color="#cccccc"/></linearGradient><pattern id="stripes" width="10" height="4.48" patternUnits="userSpaceOnUse" y="247.3"><rect width="10" height="4.48" fill="url(#gap)"/><rect y="0.2" width="10" height="2.05" fill="#d0363e"/></pattern><linearGradient id="shadow" x1="0" y1="0" x2="0" y2="1"><stop offset="0" stop-color="#888" stop-opacity="0.5"/><stop offset="1" stop-color="#888" stop-opacity="0"/></linearGradient></defs>
<rect x="231" y="246" width="222" height="53.5" fill="url(#stripes)"/>
<rect x="296" y="247.6" width="157" height="1.9" fill="#a8282e" opacity="0.55"/>
<defs><linearGradient id="rshadow" x1="0" y1="0" x2="1" y2="0"><stop offset="0" stop-color="#777" stop-opacity="0.45"/><stop offset="1" stop-color="#777" stop-opacity="0"/></linearGradient></defs>
<rect x="453" y="242" width="3.5" height="66" fill="url(#rshadow)"/>
<path d="M231,304 C260,306 300,307 340,307.5 C380,307.6 420,307 453,306 L453,310 C420,311 380,311 340,311 C300,311 260,310 231,308 Z" fill="url(#shadow)"/>
<path d="M231.00,239.00 C233.33,239.32 240.50,240.35 245.00,240.90 C249.50,241.45 253.50,242.02 258.00,242.30 C262.50,242.58 265.00,242.72 272.00,242.60 C279.00,242.48 287.83,241.90 300.00,241.60 C312.17,241.30 328.33,240.97 345.00,240.80 C361.67,240.63 382.00,240.77 400.00,240.60 C418.00,240.43 444.17,239.93 453.00,239.80 L453.00,246.00 C444.17,246.33 418.00,247.80 400.00,248.00 C382.00,248.20 361.67,247.23 345.00,247.20 C328.33,247.17 312.17,247.60 300.00,247.80 C287.83,248.00 279.00,248.32 272.00,248.40 C265.00,248.48 262.50,248.60 258.00,248.30 C253.50,248.00 249.50,247.22 245.00,246.60 C240.50,245.98 233.33,244.93 231.00,244.60Z" fill="#5ea8ec"/>
<path d="M231.00,297.90 C235.83,298.02 249.17,298.40 260.00,298.60 C270.83,298.80 281.83,298.93 296.00,299.10 C310.17,299.27 327.67,299.55 345.00,299.60 C362.33,299.65 382.00,299.48 400.00,299.40 C418.00,299.32 444.17,299.15 453.00,299.10 L453.00,306.10 C444.17,306.33 418.00,307.27 400.00,307.50 C382.00,307.73 362.33,307.65 345.00,307.50 C327.67,307.35 310.17,306.95 296.00,306.60 C281.83,306.25 270.83,305.83 260.00,305.40 C249.17,304.97 235.83,304.23 231.00,304.00Z" fill="#5ea8ec"/>
<path d="M98,273.5 L296,188 L296,367.5 L98,277.8 Z" fill="url(#cone2)"/>
<path d="M253.80,255.70 C256.50,256.30 264.80,258.18 270.00,259.30 C275.20,260.42 280.00,261.57 285.00,262.40 C290.00,263.23 294.93,263.80 300.00,264.30 C305.07,264.80 312.83,265.22 315.40,265.40" stroke="#3eaae0" stroke-width="1.1" fill="none"/>
<path d="M298.00,286.90 C299.00,287.05 301.92,287.88 304.00,287.80 C306.08,287.72 307.83,287.00 310.50,286.40 C313.17,285.80 315.08,285.68 320.00,284.20 C324.92,282.72 333.45,279.80 340.00,277.50 C346.55,275.20 356.08,271.58 359.30,270.40" stroke="#ec2a8c" stroke-width="1.1" fill="none"/>
<path d="M377.80,254.00 C380.67,254.88 389.63,257.92 395.00,259.30 C400.37,260.68 404.32,262.10 410.00,262.30 C415.68,262.50 425.92,260.80 429.10,260.50" stroke="#ec2a8c" stroke-width="1.1" fill="none"/>
<path d="M384.80,288.90 C386.83,288.62 392.80,287.88 397.00,287.20 C401.20,286.52 405.33,285.50 410.00,284.80 C414.67,284.10 420.18,283.58 425.00,283.00 C429.82,282.42 436.58,281.58 438.90,281.30" stroke="#3eaae0" stroke-width="1.1" fill="none"/>
<path d="M272.60,220.50 C271.87,221.32 267.57,223.58 268.20,225.40 C268.83,227.22 276.50,229.32 276.40,231.40 C276.30,233.48 267.42,236.08 267.60,237.90 C267.78,239.72 276.27,240.87 277.50,242.30 C278.73,243.73 275.56,245.66 275.00,246.50 C274.44,247.34 274.27,247.18 274.13,247.32" fill="none" stroke="#f39a48" stroke-width="1.5" stroke-linecap="round" stroke-linejoin="round"/>
<path d="M270.40,250.80L272.37,244.71L273.61,247.80L276.61,249.24Z" fill="#f39a48"/>
<path d="M398.60,217.50 C397.88,218.32 393.57,220.58 394.30,222.40 C395.03,224.22 403.10,226.32 403.00,228.40 C402.90,230.48 393.42,233.18 393.70,234.90 C393.98,236.62 403.40,237.27 404.70,238.70 C406.00,240.13 402.22,242.54 401.50,243.50 C400.78,244.46 400.56,244.31 400.37,244.47" fill="none" stroke="#f39a48" stroke-width="1.5" stroke-linecap="round" stroke-linejoin="round"/>
<path d="M396.50,247.80L398.72,241.80L399.84,244.93L402.77,246.50Z" fill="#f39a48"/>
<path d="M410.20,249.90 C411.43,249.82 416.63,251.30 417.60,249.40 C418.57,247.50 414.18,239.95 416.00,238.50 C417.82,237.05 427.00,242.28 428.50,240.70 C430.00,239.12 424.58,231.12 425.00,229.00 C425.42,226.88 429.48,228.15 431.00,228.00 C432.52,227.85 433.59,228.09 434.10,228.11" fill="none" stroke="#0c1ee6" stroke-width="1.6" stroke-linecap="round" stroke-linejoin="round"/>
<path d="M439.20,228.30L433.49,231.19L434.80,228.14L433.72,225.00Z" fill="#0c1ee6"/>
<path d="M251.60,276.20 C252.37,277.02 254.40,281.70 256.20,281.10 C258.00,280.50 260.32,272.43 262.40,272.60 C264.48,272.77 266.78,282.27 268.70,282.10 C270.62,281.93 272.35,272.95 273.90,271.60 C275.45,270.25 277.10,273.21 278.00,274.00 C278.90,274.79 279.09,275.96 279.31,276.35" fill="none" stroke="#111" stroke-width="1.4" stroke-linecap="round" stroke-linejoin="round"/>
<path d="M281.80,280.80L276.36,277.42L279.65,276.96L281.77,274.40Z" fill="#111"/>
<path d="M371.10,262.30 C371.78,262.98 373.38,266.97 375.20,266.40 C377.02,265.83 379.83,258.68 382.00,258.90 C384.17,259.12 386.27,267.82 388.20,267.70 C390.13,267.58 391.97,259.40 393.60,258.20 C395.23,257.00 397.21,260.03 398.00,260.50 C398.79,260.97 398.28,260.93 398.33,261.02" fill="none" stroke="#111" stroke-width="1.4" stroke-linecap="round" stroke-linejoin="round"/>
<path d="M401.10,265.30L395.46,262.28L398.71,261.60L400.67,258.91Z" fill="#111"/>
<path d="M317.40,247.20 C317.50,248.38 315.77,253.63 318.00,254.30 C320.23,254.97 328.67,249.33 330.80,251.20 C332.93,253.07 328.78,264.33 330.80,265.50 C332.82,266.67 340.33,258.28 342.90,258.20 C345.47,258.12 345.63,263.48 346.20,265.00 C346.77,266.52 346.30,266.92 346.32,267.31" fill="none" stroke="#6fd022" stroke-width="1.7" stroke-linecap="round" stroke-linejoin="round"/>
<path d="M346.60,272.40L343.20,266.98L346.36,268.01L349.39,266.64Z" fill="#6fd022"/>
<path d="M370.70,272.50 C370.88,273.83 369.57,279.70 371.80,280.50 C374.03,281.30 381.93,275.72 384.10,277.30 C386.27,278.88 382.65,289.07 384.80,290.00 C386.95,290.93 394.57,282.90 397.00,282.90 C399.43,282.90 398.98,288.35 399.40,290.00 C399.82,291.65 399.52,292.34 399.54,292.81" fill="none" stroke="#6fd022" stroke-width="1.7" stroke-linecap="round" stroke-linejoin="round"/>
<path d="M399.80,297.90L396.42,292.46L399.58,293.51L402.61,292.15Z" fill="#6fd022"/>
<path d="M337.00,299.70 C335.77,299.73 330.67,297.82 329.60,299.90 C328.53,301.98 332.68,310.68 330.60,312.20 C328.52,313.72 318.65,307.20 317.10,309.00 C315.55,310.80 321.48,320.63 321.30,323.00 C321.12,325.37 317.62,323.23 316.00,323.20 C314.38,323.17 312.32,322.89 311.58,322.83" fill="none" stroke="#25a3a6" stroke-width="1.5" stroke-linecap="round" stroke-linejoin="round"/>
<path d="M306.50,322.40L312.34,319.78L310.88,322.77L311.82,325.96Z" fill="#25a3a6"/>
<text transform="translate(236.40,213.70) scale(1,1.08)" font-size="13.6" font-weight="bold" font-style="normal" fill="#f39a48" text-anchor="start" >Incident waves</text>
<text transform="translate(356.30,211.80) scale(1,1.08)" font-size="13.6" font-weight="bold" font-style="normal" fill="#0c1ee6" text-anchor="start" >Reflected waves</text>
<text transform="translate(189.90,319.10) scale(1,1.08)" font-size="13.6" font-weight="bold" font-style="normal" fill="#000" text-anchor="start" >Internal reflections</text>
<text transform="translate(352.60,323.30) scale(1,1.08)" font-size="13.6" font-weight="bold" font-style="normal" fill="#6fd022" text-anchor="start" >Absorbed waves</text>
<text transform="translate(284.00,341.30) scale(1,1.08)" font-size="13.6" font-weight="bold" font-style="normal" fill="#25a3a6" text-anchor="start" >Transmitted waves</text>
<text transform="translate(63.00,232.90) scale(1,1.08)" font-size="13.6" font-weight="bold" font-style="normal" fill="#000" text-anchor="start" >MGP-T textiles</text>
</svg>
</body></html>
